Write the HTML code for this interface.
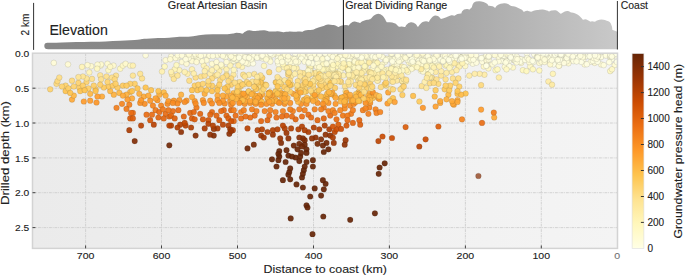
<!DOCTYPE html>
<html><head><meta charset="utf-8"><style>
html,body{margin:0;padding:0;background:#fff;width:685px;height:275px;overflow:hidden}
svg{display:block;font-family:"Liberation Sans",sans-serif}
text{stroke:#1e1e1e;stroke-width:0.12px}
</style></head><body>
<svg width="685" height="275" viewBox="0 0 685 275">
<defs>
<linearGradient id="pg" x1="44" y1="0" x2="617" y2="0" gradientUnits="userSpaceOnUse">
<stop offset="0" stop-color="#878787"/><stop offset="0.49" stop-color="#8a8a8a"/><stop offset="1" stop-color="#c9c9c9"/>
</linearGradient>
<linearGradient id="bg" x1="32" y1="0" x2="618" y2="0" gradientUnits="userSpaceOnUse">
<stop offset="0" stop-color="#ebebeb"/><stop offset="1" stop-color="#f4f4f4"/>
</linearGradient>
<linearGradient id="cb" x1="0" y1="53.6" x2="0" y2="248.4" gradientUnits="userSpaceOnUse"><stop offset="0.000" stop-color="#662506"/><stop offset="0.125" stop-color="#993404"/><stop offset="0.250" stop-color="#cc4c02"/><stop offset="0.375" stop-color="#ec7014"/><stop offset="0.500" stop-color="#fe9929"/><stop offset="0.625" stop-color="#fec44f"/><stop offset="0.750" stop-color="#fee391"/><stop offset="0.875" stop-color="#fff7bc"/><stop offset="1.000" stop-color="#ffffe5"/></linearGradient>
<clipPath id="axclip"><rect x="32.5" y="53.2" width="585.0" height="195.2"/></clipPath>
</defs>
<!-- elevation -->
<clipPath id="pclip"><rect x="0" y="0" width="617.3" height="49.5"/></clipPath>
<g clip-path="url(#pclip)"><path d="M47.4,45.9 C49.8,45.9 57.0,45.7 61.9,45.6 C66.8,45.5 71.6,45.3 76.5,45.2 C81.4,45.1 86.2,45.0 91.1,44.9 C96.0,44.8 100.8,44.7 105.7,44.5 C110.6,44.3 115.4,44.1 120.3,43.9 C125.2,43.6 131.6,43.2 134.9,43.0 C138.2,42.8 138.4,42.9 140.0,42.7 C141.6,42.5 142.0,42.0 144.4,41.8 C146.8,41.6 150.5,41.5 154.6,41.3 C158.7,41.2 165.1,41.1 169.2,40.9 C173.3,40.7 175.8,40.1 179.4,39.9 C183.1,39.7 187.4,39.8 191.1,39.5 C194.8,39.2 197.7,38.4 201.3,38.0 C205.0,37.6 209.1,37.5 213.0,37.4 C216.9,37.3 221.3,37.5 224.7,37.3 C228.1,37.2 231.4,36.7 233.4,36.5 C235.4,36.3 235.3,35.9 236.4,35.9 C237.5,35.9 238.8,36.1 240.0,36.2 C241.2,36.4 242.5,37.1 243.6,36.8 C244.7,36.5 245.6,35.1 246.6,34.5 C247.6,33.9 248.4,33.4 249.5,33.4 C250.6,33.4 251.8,34.1 253.1,34.2 C254.4,34.3 255.7,34.0 257.5,33.9 C259.3,33.8 262.3,33.3 264.1,33.4 C265.9,33.5 266.9,34.3 268.5,34.5 C270.1,34.7 271.8,34.5 273.6,34.5 C275.4,34.5 277.7,34.4 279.4,34.5 C281.1,34.6 282.1,35.3 283.8,35.3 C285.5,35.3 287.7,34.6 289.6,34.5 C291.6,34.4 293.8,34.9 295.5,34.9 C297.2,34.9 298.7,34.5 299.9,34.5 C301.1,34.5 301.8,35.1 302.8,34.9 C303.8,34.7 304.5,33.7 305.7,33.4 C306.9,33.1 308.6,33.3 310.1,33.1 C311.6,32.9 313.3,32.7 314.5,32.4 C315.7,32.1 316.2,31.6 317.4,31.2 C318.6,30.8 320.5,30.2 321.8,29.8 C323.1,29.4 324.3,29.0 325.4,28.6 C326.5,28.2 327.2,27.7 328.3,27.6 C329.4,27.5 330.9,27.8 332.0,28.0 C333.1,28.2 333.9,28.2 334.9,28.6 C335.9,29.0 336.9,29.9 337.8,30.1 C338.7,30.3 339.1,30.0 340.0,29.7 C340.9,29.4 341.9,28.8 342.9,28.5 C343.9,28.2 344.8,28.2 345.8,28.2 C346.8,28.2 347.9,28.6 348.8,28.5 C349.7,28.4 350.4,28.2 351.0,27.8 C351.6,27.4 351.8,26.4 352.4,25.9 C353.0,25.4 353.9,24.7 354.6,24.6 C355.3,24.5 356.1,25.1 356.8,25.3 C357.5,25.5 358.3,25.7 359.0,25.9 C359.7,26.1 360.5,26.6 361.2,26.3 C361.9,26.0 362.5,24.7 363.4,24.2 C364.2,23.7 365.3,23.4 366.3,23.1 C367.3,22.9 368.4,22.9 369.2,22.7 C370.0,22.5 370.7,22.4 371.4,22.0 C372.1,21.6 372.9,21.2 373.6,20.5 C374.3,19.8 375.0,18.6 375.8,18.0 C376.6,17.4 377.4,16.9 378.2,16.9 C379.0,16.9 379.9,17.4 380.6,18.0 C381.3,18.6 381.8,19.6 382.3,20.5 C382.8,21.4 383.3,22.7 383.8,23.4 C384.3,24.1 384.6,24.6 385.3,24.9 C386.0,25.2 387.1,25.2 388.2,25.3 C389.3,25.4 390.8,25.4 391.8,25.6 C392.8,25.8 393.3,25.8 394.0,26.3 C394.7,26.8 395.5,27.9 396.2,28.5 C396.9,29.1 397.5,29.5 398.4,29.7 C399.2,29.9 400.3,29.7 401.3,29.7 C402.3,29.8 403.2,29.9 404.2,30.0 C405.2,30.1 406.5,30.8 407.2,30.3 C407.9,29.8 407.9,27.9 408.6,27.1 C409.3,26.3 410.4,25.4 411.2,25.3 C412.0,25.2 413.0,25.7 413.7,26.3 C414.4,26.9 414.6,28.2 415.2,28.8 C415.8,29.4 416.7,29.6 417.4,29.7 C418.1,29.9 418.9,30.1 419.6,29.7 C420.3,29.3 421.1,27.9 421.8,27.1 C422.5,26.3 423.0,25.3 423.9,24.9 C424.8,24.5 425.9,24.3 426.9,24.5 C427.9,24.7 428.9,26.7 429.8,26.3 C430.7,25.9 431.4,23.3 432.2,22.1 C433.0,20.9 433.7,19.7 434.4,19.2 C435.1,18.7 435.9,18.6 436.6,18.9 C437.3,19.2 438.1,20.8 438.8,21.3 C439.5,21.8 439.9,22.1 440.9,22.1 C441.9,22.1 443.4,21.7 444.6,21.3 C445.8,20.9 447.0,20.4 448.2,19.9 C449.4,19.4 450.8,18.6 451.9,18.4 C453.0,18.2 453.7,19.1 454.8,18.9 C455.9,18.7 457.4,17.4 458.5,17.0 C459.6,16.6 460.5,16.4 461.4,16.5 C462.2,16.6 463.1,18.3 463.6,17.7 C464.2,17.1 464.1,13.9 464.7,13.0 C465.3,12.1 466.3,12.2 467.2,12.2 C468.1,12.2 469.2,13.2 470.1,13.0 C471.0,12.8 471.6,11.8 472.3,11.1 C473.0,10.4 473.9,9.9 474.5,8.9 C475.1,7.9 475.1,5.7 476.0,4.9 C476.9,4.1 478.5,4.3 479.6,4.3 C480.7,4.3 481.7,4.6 482.6,4.9 C483.5,5.2 484.6,5.7 485.2,6.3 C485.8,6.9 485.7,8.2 486.2,8.6 C486.7,9.0 487.5,8.8 488.4,8.9 C489.2,9.0 490.3,8.8 491.3,9.2 C492.3,9.6 493.4,10.6 494.2,11.1 C495.0,11.6 495.7,12.4 496.4,11.9 C497.1,11.4 497.8,9.1 498.6,8.2 C499.5,7.3 500.5,7.0 501.5,6.7 C502.5,6.4 503.5,6.2 504.5,6.3 C505.5,6.4 506.5,6.8 507.4,7.2 C508.2,7.6 508.9,8.3 509.6,8.6 C510.3,8.9 510.9,9.0 511.8,9.2 C512.6,9.4 513.7,9.4 514.7,9.7 C515.7,10.0 516.6,10.6 517.6,11.1 C518.6,11.6 519.8,11.9 520.5,12.6 C521.2,13.3 521.4,14.9 522.0,15.5 C522.6,16.1 523.5,16.1 524.2,15.9 C524.9,15.7 525.8,14.3 526.4,14.0 C527.0,13.7 527.0,13.9 527.9,14.0 C528.8,14.1 530.4,14.9 531.6,14.8 C532.8,14.7 534.0,13.9 535.2,13.6 C536.4,13.3 537.7,13.2 538.9,13.0 C540.1,12.8 541.3,12.5 542.5,12.6 C543.7,12.7 545.1,13.3 546.2,13.6 C547.3,13.9 548.1,14.5 549.1,14.5 C550.1,14.5 551.0,13.8 552.0,13.6 C553.0,13.4 554.0,13.1 554.9,13.3 C555.8,13.5 556.4,14.3 557.1,14.8 C557.8,15.3 558.4,16.2 559.3,16.5 C560.1,16.8 561.2,16.8 562.2,16.5 C563.2,16.2 564.2,15.2 565.1,14.8 C566.0,14.4 566.4,13.9 567.3,14.0 C568.2,14.1 569.3,15.2 570.3,15.5 C571.3,15.8 572.2,15.6 573.2,15.9 C574.2,16.2 575.1,16.7 576.1,17.4 C577.1,18.1 578.1,19.0 579.0,19.9 C579.9,20.8 580.5,22.3 581.2,22.8 C581.9,23.3 582.7,22.9 583.4,22.8 C584.1,22.7 584.9,22.2 585.6,22.4 C586.3,22.6 587.1,23.4 587.8,23.8 C588.5,24.2 589.3,24.9 590.0,25.0 C590.7,25.1 591.4,24.3 592.2,24.3 C593.1,24.3 594.2,25.1 595.1,25.0 C596.0,24.9 596.4,24.2 597.3,23.8 C598.1,23.4 599.2,23.0 600.2,22.8 C601.2,22.6 602.2,22.7 603.1,22.8 C604.0,22.9 604.6,23.2 605.3,23.5 C606.0,23.8 606.9,23.7 607.5,24.3 C608.1,24.9 608.5,26.0 608.9,27.2 C609.3,28.4 609.2,30.6 609.7,31.6 C610.2,32.6 611.2,32.6 611.9,33.0 C612.6,33.4 613.4,33.5 614.1,33.8 C614.8,34.0 615.7,34.4 616.2,34.5 C616.7,34.6 617.1,34.5 617.3,34.5 L617.3,49.5 L47.4,49.5 Z" fill="url(#pg)"/>
<path d="M47.4,45.9 C49.8,45.9 57.0,45.7 61.9,45.6 C66.8,45.5 71.6,45.3 76.5,45.2 C81.4,45.1 86.2,45.0 91.1,44.9 C96.0,44.8 100.8,44.7 105.7,44.5 C110.6,44.3 115.4,44.1 120.3,43.9 C125.2,43.6 131.6,43.2 134.9,43.0 C138.2,42.8 138.4,42.9 140.0,42.7 C141.6,42.5 142.0,42.0 144.4,41.8 C146.8,41.6 150.5,41.5 154.6,41.3 C158.7,41.2 165.1,41.1 169.2,40.9 C173.3,40.7 175.8,40.1 179.4,39.9 C183.1,39.7 187.4,39.8 191.1,39.5 C194.8,39.2 197.7,38.4 201.3,38.0 C205.0,37.6 209.1,37.5 213.0,37.4 C216.9,37.3 221.3,37.5 224.7,37.3 C228.1,37.2 231.4,36.7 233.4,36.5 C235.4,36.3 235.3,35.9 236.4,35.9 C237.5,35.9 238.8,36.1 240.0,36.2 C241.2,36.4 242.5,37.1 243.6,36.8 C244.7,36.5 245.6,35.1 246.6,34.5 C247.6,33.9 248.4,33.4 249.5,33.4 C250.6,33.4 251.8,34.1 253.1,34.2 C254.4,34.3 255.7,34.0 257.5,33.9 C259.3,33.8 262.3,33.3 264.1,33.4 C265.9,33.5 266.9,34.3 268.5,34.5 C270.1,34.7 271.8,34.5 273.6,34.5 C275.4,34.5 277.7,34.4 279.4,34.5 C281.1,34.6 282.1,35.3 283.8,35.3 C285.5,35.3 287.7,34.6 289.6,34.5 C291.6,34.4 293.8,34.9 295.5,34.9 C297.2,34.9 298.7,34.5 299.9,34.5 C301.1,34.5 301.8,35.1 302.8,34.9 C303.8,34.7 304.5,33.7 305.7,33.4 C306.9,33.1 308.6,33.3 310.1,33.1 C311.6,32.9 313.3,32.7 314.5,32.4 C315.7,32.1 316.2,31.6 317.4,31.2 C318.6,30.8 320.5,30.2 321.8,29.8 C323.1,29.4 324.3,29.0 325.4,28.6 C326.5,28.2 327.2,27.7 328.3,27.6 C329.4,27.5 330.9,27.8 332.0,28.0 C333.1,28.2 333.9,28.2 334.9,28.6 C335.9,29.0 336.9,29.9 337.8,30.1 C338.7,30.3 339.1,30.0 340.0,29.7 C340.9,29.4 341.9,28.8 342.9,28.5 C343.9,28.2 344.8,28.2 345.8,28.2 C346.8,28.2 347.9,28.6 348.8,28.5 C349.7,28.4 350.4,28.2 351.0,27.8 C351.6,27.4 351.8,26.4 352.4,25.9 C353.0,25.4 353.9,24.7 354.6,24.6 C355.3,24.5 356.1,25.1 356.8,25.3 C357.5,25.5 358.3,25.7 359.0,25.9 C359.7,26.1 360.5,26.6 361.2,26.3 C361.9,26.0 362.5,24.7 363.4,24.2 C364.2,23.7 365.3,23.4 366.3,23.1 C367.3,22.9 368.4,22.9 369.2,22.7 C370.0,22.5 370.7,22.4 371.4,22.0 C372.1,21.6 372.9,21.2 373.6,20.5 C374.3,19.8 375.0,18.6 375.8,18.0 C376.6,17.4 377.4,16.9 378.2,16.9 C379.0,16.9 379.9,17.4 380.6,18.0 C381.3,18.6 381.8,19.6 382.3,20.5 C382.8,21.4 383.3,22.7 383.8,23.4 C384.3,24.1 384.6,24.6 385.3,24.9 C386.0,25.2 387.1,25.2 388.2,25.3 C389.3,25.4 390.8,25.4 391.8,25.6 C392.8,25.8 393.3,25.8 394.0,26.3 C394.7,26.8 395.5,27.9 396.2,28.5 C396.9,29.1 397.5,29.5 398.4,29.7 C399.2,29.9 400.3,29.7 401.3,29.7 C402.3,29.8 403.2,29.9 404.2,30.0 C405.2,30.1 406.5,30.8 407.2,30.3 C407.9,29.8 407.9,27.9 408.6,27.1 C409.3,26.3 410.4,25.4 411.2,25.3 C412.0,25.2 413.0,25.7 413.7,26.3 C414.4,26.9 414.6,28.2 415.2,28.8 C415.8,29.4 416.7,29.6 417.4,29.7 C418.1,29.9 418.9,30.1 419.6,29.7 C420.3,29.3 421.1,27.9 421.8,27.1 C422.5,26.3 423.0,25.3 423.9,24.9 C424.8,24.5 425.9,24.3 426.9,24.5 C427.9,24.7 428.9,26.7 429.8,26.3 C430.7,25.9 431.4,23.3 432.2,22.1 C433.0,20.9 433.7,19.7 434.4,19.2 C435.1,18.7 435.9,18.6 436.6,18.9 C437.3,19.2 438.1,20.8 438.8,21.3 C439.5,21.8 439.9,22.1 440.9,22.1 C441.9,22.1 443.4,21.7 444.6,21.3 C445.8,20.9 447.0,20.4 448.2,19.9 C449.4,19.4 450.8,18.6 451.9,18.4 C453.0,18.2 453.7,19.1 454.8,18.9 C455.9,18.7 457.4,17.4 458.5,17.0 C459.6,16.6 460.5,16.4 461.4,16.5 C462.2,16.6 463.1,18.3 463.6,17.7 C464.2,17.1 464.1,13.9 464.7,13.0 C465.3,12.1 466.3,12.2 467.2,12.2 C468.1,12.2 469.2,13.2 470.1,13.0 C471.0,12.8 471.6,11.8 472.3,11.1 C473.0,10.4 473.9,9.9 474.5,8.9 C475.1,7.9 475.1,5.7 476.0,4.9 C476.9,4.1 478.5,4.3 479.6,4.3 C480.7,4.3 481.7,4.6 482.6,4.9 C483.5,5.2 484.6,5.7 485.2,6.3 C485.8,6.9 485.7,8.2 486.2,8.6 C486.7,9.0 487.5,8.8 488.4,8.9 C489.2,9.0 490.3,8.8 491.3,9.2 C492.3,9.6 493.4,10.6 494.2,11.1 C495.0,11.6 495.7,12.4 496.4,11.9 C497.1,11.4 497.8,9.1 498.6,8.2 C499.5,7.3 500.5,7.0 501.5,6.7 C502.5,6.4 503.5,6.2 504.5,6.3 C505.5,6.4 506.5,6.8 507.4,7.2 C508.2,7.6 508.9,8.3 509.6,8.6 C510.3,8.9 510.9,9.0 511.8,9.2 C512.6,9.4 513.7,9.4 514.7,9.7 C515.7,10.0 516.6,10.6 517.6,11.1 C518.6,11.6 519.8,11.9 520.5,12.6 C521.2,13.3 521.4,14.9 522.0,15.5 C522.6,16.1 523.5,16.1 524.2,15.9 C524.9,15.7 525.8,14.3 526.4,14.0 C527.0,13.7 527.0,13.9 527.9,14.0 C528.8,14.1 530.4,14.9 531.6,14.8 C532.8,14.7 534.0,13.9 535.2,13.6 C536.4,13.3 537.7,13.2 538.9,13.0 C540.1,12.8 541.3,12.5 542.5,12.6 C543.7,12.7 545.1,13.3 546.2,13.6 C547.3,13.9 548.1,14.5 549.1,14.5 C550.1,14.5 551.0,13.8 552.0,13.6 C553.0,13.4 554.0,13.1 554.9,13.3 C555.8,13.5 556.4,14.3 557.1,14.8 C557.8,15.3 558.4,16.2 559.3,16.5 C560.1,16.8 561.2,16.8 562.2,16.5 C563.2,16.2 564.2,15.2 565.1,14.8 C566.0,14.4 566.4,13.9 567.3,14.0 C568.2,14.1 569.3,15.2 570.3,15.5 C571.3,15.8 572.2,15.6 573.2,15.9 C574.2,16.2 575.1,16.7 576.1,17.4 C577.1,18.1 578.1,19.0 579.0,19.9 C579.9,20.8 580.5,22.3 581.2,22.8 C581.9,23.3 582.7,22.9 583.4,22.8 C584.1,22.7 584.9,22.2 585.6,22.4 C586.3,22.6 587.1,23.4 587.8,23.8 C588.5,24.2 589.3,24.9 590.0,25.0 C590.7,25.1 591.4,24.3 592.2,24.3 C593.1,24.3 594.2,25.1 595.1,25.0 C596.0,24.9 596.4,24.2 597.3,23.8 C598.1,23.4 599.2,23.0 600.2,22.8 C601.2,22.6 602.2,22.7 603.1,22.8 C604.0,22.9 604.6,23.2 605.3,23.5 C606.0,23.8 606.9,23.7 607.5,24.3 C608.1,24.9 608.5,26.0 608.9,27.2 C609.3,28.4 609.2,30.6 609.7,31.6 C610.2,32.6 611.2,32.6 611.9,33.0 C612.6,33.4 613.4,33.5 614.1,33.8 C614.8,34.0 615.7,34.4 616.2,34.5 C616.7,34.6 617.1,34.5 617.3,34.5" fill="none" stroke="url(#pg)" stroke-width="6.2" stroke-linecap="round" stroke-linejoin="round"/></g>
<line x1="33.6" y1="2.9" x2="33.6" y2="49.9" stroke="#333" stroke-width="1"/>
<line x1="343.4" y1="0" x2="343.4" y2="49.7" stroke="#111" stroke-width="1"/>
<line x1="617.4" y1="1" x2="617.4" y2="49.5" stroke="#333" stroke-width="1"/>
<text x="167.8" y="8.6" font-size="10" fill="#222" textLength="99.5" lengthAdjust="spacingAndGlyphs">Great Artesian Basin</text>
<text x="345.3" y="8.6" font-size="10" fill="#222" textLength="102" lengthAdjust="spacingAndGlyphs">Great Dividing Range</text>
<text x="620.8" y="8.6" font-size="10" fill="#222" textLength="27.2" lengthAdjust="spacingAndGlyphs">Coast</text>
<text x="49.4" y="34.6" font-size="14.1" fill="#222" textLength="58.4" lengthAdjust="spacingAndGlyphs">Elevation</text>
<text transform="translate(28.5,35.5) rotate(-90)" font-size="10" fill="#222" textLength="21.9" lengthAdjust="spacingAndGlyphs">2 km</text>
<!-- axes -->
<rect x="32.5" y="53.2" width="585.0" height="195.2" fill="url(#bg)"/>
<g stroke="#c9c9c9" stroke-width="0.8" stroke-dasharray="2.8,0.9,0.9,0.9">
<line x1="541.3" y1="53.2" x2="541.3" y2="248.4"/>
<line x1="465.4" y1="53.2" x2="465.4" y2="248.4"/>
<line x1="389.4" y1="53.2" x2="389.4" y2="248.4"/>
<line x1="313.5" y1="53.2" x2="313.5" y2="248.4"/>
<line x1="237.5" y1="53.2" x2="237.5" y2="248.4"/>
<line x1="161.5" y1="53.2" x2="161.5" y2="248.4"/>
<line x1="85.6" y1="53.2" x2="85.6" y2="248.4"/>
<line x1="32.5" y1="88.2" x2="617.5" y2="88.2"/>
<line x1="32.5" y1="123.0" x2="617.5" y2="123.0"/>
<line x1="32.5" y1="157.9" x2="617.5" y2="157.9"/>
<line x1="32.5" y1="192.7" x2="617.5" y2="192.7"/>
<line x1="32.5" y1="227.6" x2="617.5" y2="227.6"/>
</g>
<g clip-path="url(#axclip)" fill-opacity="0.92" stroke="rgba(30,30,30,0.28)" stroke-width="0.4">
<circle cx="323.1" cy="75.0" r="2.85" fill="#fee392"/>
<circle cx="165.6" cy="60.2" r="2.85" fill="#fffbd3"/>
<circle cx="357.1" cy="77.2" r="2.85" fill="#fff1af"/>
<circle cx="366.5" cy="61.0" r="2.85" fill="#fffedf"/>
<circle cx="212.0" cy="91.1" r="2.85" fill="#fec24d"/>
<circle cx="301.1" cy="103.8" r="2.85" fill="#fa9024"/>
<circle cx="291.7" cy="84.5" r="2.85" fill="#feda7d"/>
<circle cx="534.4" cy="54.5" r="2.85" fill="#fffee2"/>
<circle cx="423.4" cy="55.5" r="2.85" fill="#fffddb"/>
<circle cx="113.8" cy="94.7" r="2.85" fill="#feb13e"/>
<circle cx="463.1" cy="54.6" r="2.85" fill="#fffee0"/>
<circle cx="132.9" cy="112.9" r="2.85" fill="#e96d13"/>
<circle cx="600.0" cy="57.3" r="2.85" fill="#ffffe5"/>
<circle cx="594.4" cy="61.7" r="2.85" fill="#ffffe3"/>
<circle cx="383.1" cy="70.3" r="2.85" fill="#fffbd1"/>
<circle cx="508.6" cy="61.4" r="2.85" fill="#fffee1"/>
<circle cx="420.0" cy="62.2" r="2.85" fill="#fffbcf"/>
<circle cx="586.1" cy="56.3" r="2.85" fill="#fffee1"/>
<circle cx="531.5" cy="63.2" r="2.85" fill="#fffddb"/>
<circle cx="358.3" cy="69.7" r="2.85" fill="#fff7be"/>
<circle cx="208.4" cy="120.2" r="2.85" fill="#d35406"/>
<circle cx="305.2" cy="73.3" r="2.85" fill="#feeaa0"/>
<circle cx="187.5" cy="73.8" r="2.85" fill="#ffefaa"/>
<circle cx="357.4" cy="78.0" r="2.85" fill="#fff0ae"/>
<circle cx="610.6" cy="58.2" r="2.85" fill="#fffee0"/>
<circle cx="321.9" cy="88.2" r="2.85" fill="#fed16b"/>
<circle cx="277.7" cy="55.0" r="2.85" fill="#fffbd0"/>
<circle cx="303.0" cy="73.2" r="2.85" fill="#fee595"/>
<circle cx="392.6" cy="67.9" r="2.85" fill="#fff5b8"/>
<circle cx="432.0" cy="77.5" r="2.85" fill="#fee08a"/>
<circle cx="311.9" cy="56.7" r="2.85" fill="#fffddc"/>
<circle cx="494.2" cy="117.5" r="2.85" fill="#fea937"/>
<circle cx="397.8" cy="57.3" r="2.85" fill="#fffee1"/>
<circle cx="505.9" cy="61.4" r="2.85" fill="#fffee1"/>
<circle cx="239.8" cy="97.7" r="2.85" fill="#feb340"/>
<circle cx="323.8" cy="107.5" r="2.85" fill="#f27f1c"/>
<circle cx="396.3" cy="59.8" r="2.85" fill="#fffede"/>
<circle cx="354.4" cy="72.6" r="2.85" fill="#feeaa0"/>
<circle cx="387.5" cy="103.5" r="2.85" fill="#fe9b2b"/>
<circle cx="253.9" cy="56.7" r="2.85" fill="#fffede"/>
<circle cx="427.5" cy="60.4" r="2.85" fill="#fffcd6"/>
<circle cx="88.4" cy="88.4" r="2.85" fill="#fece65"/>
<circle cx="256.2" cy="85.1" r="2.85" fill="#fece64"/>
<circle cx="321.1" cy="195.6" r="2.85" fill="#662506"/>
<circle cx="306.5" cy="60.3" r="2.85" fill="#fffedf"/>
<circle cx="95.6" cy="89.3" r="2.85" fill="#feca5d"/>
<circle cx="359.0" cy="72.9" r="2.85" fill="#ffeea9"/>
<circle cx="293.8" cy="145.6" r="2.85" fill="#712806"/>
<circle cx="130.2" cy="92.0" r="2.85" fill="#feb743"/>
<circle cx="261.2" cy="82.0" r="2.85" fill="#fed26d"/>
<circle cx="173.8" cy="100.7" r="2.85" fill="#fc9627"/>
<circle cx="142.0" cy="78.4" r="2.85" fill="#fee08a"/>
<circle cx="468.9" cy="58.6" r="2.85" fill="#fffee2"/>
<circle cx="309.6" cy="56.1" r="2.85" fill="#fffcd3"/>
<circle cx="610.2" cy="71.1" r="2.85" fill="#fff8bf"/>
<circle cx="241.7" cy="84.2" r="2.85" fill="#fed26d"/>
<circle cx="306.3" cy="57.5" r="2.85" fill="#ffffe5"/>
<circle cx="345.6" cy="140.2" r="2.85" fill="#9c3604"/>
<circle cx="457.5" cy="100.2" r="2.85" fill="#fea937"/>
<circle cx="119.3" cy="92.9" r="2.85" fill="#feb743"/>
<circle cx="134.7" cy="83.8" r="2.85" fill="#fece65"/>
<circle cx="544.8" cy="59.7" r="2.85" fill="#fffee0"/>
<circle cx="526.9" cy="53.4" r="2.85" fill="#fffedf"/>
<circle cx="258.6" cy="54.0" r="2.85" fill="#fffcd7"/>
<circle cx="422.0" cy="66.0" r="2.85" fill="#fff5b8"/>
<circle cx="334.5" cy="95.7" r="2.85" fill="#febb47"/>
<circle cx="204.7" cy="93.8" r="2.85" fill="#feac3a"/>
<circle cx="438.4" cy="126.5" r="2.85" fill="#db5d0b"/>
<circle cx="483.5" cy="57.6" r="2.85" fill="#fffdda"/>
<circle cx="369.3" cy="60.2" r="2.85" fill="#fffddb"/>
<circle cx="262.2" cy="94.6" r="2.85" fill="#fea937"/>
<circle cx="242.6" cy="62.1" r="2.85" fill="#fffdd9"/>
<circle cx="259.3" cy="96.4" r="2.85" fill="#fea130"/>
<circle cx="388.2" cy="92.4" r="2.85" fill="#fea332"/>
<circle cx="306.3" cy="60.3" r="2.85" fill="#ffffe5"/>
<circle cx="290.2" cy="102.9" r="2.85" fill="#fb9326"/>
<circle cx="539.3" cy="62.9" r="2.85" fill="#fffbd3"/>
<circle cx="513.1" cy="53.9" r="2.85" fill="#fffee1"/>
<circle cx="313.4" cy="88.0" r="2.85" fill="#fed675"/>
<circle cx="100.7" cy="65.6" r="2.85" fill="#fffacd"/>
<circle cx="372.2" cy="77.0" r="2.85" fill="#feeba2"/>
<circle cx="530.2" cy="66.5" r="2.85" fill="#fff9c7"/>
<circle cx="235.6" cy="54.6" r="2.85" fill="#fffedf"/>
<circle cx="348.9" cy="72.1" r="2.85" fill="#feeaa0"/>
<circle cx="401.8" cy="66.6" r="2.85" fill="#fff0ae"/>
<circle cx="429.6" cy="71.0" r="2.85" fill="#fffacb"/>
<circle cx="557.4" cy="62.0" r="2.85" fill="#fffedf"/>
<circle cx="248.7" cy="91.3" r="2.85" fill="#fed069"/>
<circle cx="292.9" cy="111.1" r="2.85" fill="#f27f1c"/>
<circle cx="507.0" cy="54.1" r="2.85" fill="#fffedf"/>
<circle cx="250.2" cy="102.9" r="2.85" fill="#fb9326"/>
<circle cx="202.9" cy="100.2" r="2.85" fill="#fc9627"/>
<circle cx="450.1" cy="63.8" r="2.85" fill="#fff5b8"/>
<circle cx="473.2" cy="55.3" r="2.85" fill="#fffddc"/>
<circle cx="568.4" cy="60.9" r="2.85" fill="#fffdda"/>
<circle cx="366.2" cy="67.7" r="2.85" fill="#fffac9"/>
<circle cx="326.7" cy="97.2" r="2.85" fill="#feb642"/>
<circle cx="456.6" cy="54.6" r="2.85" fill="#fffee1"/>
<circle cx="253.0" cy="93.2" r="2.85" fill="#feaf3c"/>
<circle cx="396.8" cy="80.6" r="2.85" fill="#fee79a"/>
<circle cx="129.3" cy="104.7" r="2.85" fill="#f27f1c"/>
<circle cx="466.1" cy="60.7" r="2.85" fill="#fffee2"/>
<circle cx="611.8" cy="59.2" r="2.85" fill="#ffffe5"/>
<circle cx="395.5" cy="59.5" r="2.85" fill="#fffcd8"/>
<circle cx="194.7" cy="85.6" r="2.85" fill="#fece65"/>
<circle cx="325.3" cy="59.2" r="2.85" fill="#fffdd9"/>
<circle cx="288.4" cy="174.7" r="2.85" fill="#662506"/>
<circle cx="234.2" cy="98.2" r="2.85" fill="#febe4a"/>
<circle cx="541.2" cy="59.7" r="2.85" fill="#fffcd7"/>
<circle cx="86.5" cy="82.0" r="2.85" fill="#fed36e"/>
<circle cx="375.0" cy="72.6" r="2.85" fill="#fee99d"/>
<circle cx="445.6" cy="65.6" r="2.85" fill="#fff4b6"/>
<circle cx="435.6" cy="106.5" r="2.85" fill="#fea130"/>
<circle cx="319.3" cy="129.3" r="2.85" fill="#ad3d03"/>
<circle cx="129.3" cy="130.2" r="2.85" fill="#aa3c03"/>
<circle cx="375.3" cy="76.1" r="2.85" fill="#fee99d"/>
<circle cx="505.4" cy="60.2" r="2.85" fill="#fffcd7"/>
<circle cx="332.5" cy="55.5" r="2.85" fill="#fffcd8"/>
<circle cx="325.2" cy="65.6" r="2.85" fill="#fff5b8"/>
<circle cx="188.5" cy="54.9" r="2.85" fill="#fffbd3"/>
<circle cx="143.8" cy="96.5" r="2.85" fill="#fea937"/>
<circle cx="210.2" cy="100.7" r="2.85" fill="#fc9627"/>
<circle cx="319.6" cy="70.7" r="2.85" fill="#fff1ae"/>
<circle cx="609.2" cy="62.2" r="2.85" fill="#fffedf"/>
<circle cx="519.2" cy="58.8" r="2.85" fill="#fffcd5"/>
<circle cx="320.8" cy="63.2" r="2.85" fill="#fffdda"/>
<circle cx="275.7" cy="82.3" r="2.85" fill="#fed573"/>
<circle cx="438.0" cy="56.0" r="2.85" fill="#fffddb"/>
<circle cx="340.9" cy="97.9" r="2.85" fill="#feb945"/>
<circle cx="393.6" cy="64.1" r="2.85" fill="#fff8c2"/>
<circle cx="440.2" cy="102.9" r="2.85" fill="#fea937"/>
<circle cx="153.8" cy="124.7" r="2.85" fill="#b84203"/>
<circle cx="303.8" cy="99.8" r="2.85" fill="#feb642"/>
<circle cx="581.2" cy="61.0" r="2.85" fill="#fffede"/>
<circle cx="605.4" cy="54.9" r="2.85" fill="#fffcd6"/>
<circle cx="372.8" cy="98.0" r="2.85" fill="#fec14c"/>
<circle cx="194.7" cy="101.1" r="2.85" fill="#fc9627"/>
<circle cx="265.9" cy="53.6" r="2.85" fill="#fffcd6"/>
<circle cx="420.9" cy="55.6" r="2.85" fill="#fffcd8"/>
<circle cx="172.0" cy="74.7" r="2.85" fill="#fee698"/>
<circle cx="278.4" cy="102.0" r="2.85" fill="#feab39"/>
<circle cx="230.2" cy="101.1" r="2.85" fill="#fc9627"/>
<circle cx="544.7" cy="54.8" r="2.85" fill="#fffee1"/>
<circle cx="179.3" cy="70.2" r="2.85" fill="#fff4b6"/>
<circle cx="438.4" cy="83.8" r="2.85" fill="#fed97c"/>
<circle cx="110.2" cy="91.1" r="2.85" fill="#feb743"/>
<circle cx="186.5" cy="100.7" r="2.85" fill="#fc9627"/>
<circle cx="434.9" cy="64.6" r="2.85" fill="#fff6ba"/>
<circle cx="228.4" cy="125.6" r="2.85" fill="#b24003"/>
<circle cx="512.9" cy="67.5" r="2.85" fill="#fff9c4"/>
<circle cx="460.1" cy="54.2" r="2.85" fill="#fffdd9"/>
<circle cx="308.9" cy="66.1" r="2.85" fill="#fff8bf"/>
<circle cx="313.8" cy="127.5" r="2.85" fill="#af3f03"/>
<circle cx="181.1" cy="132.0" r="2.85" fill="#8f3104"/>
<circle cx="374.6" cy="60.6" r="2.85" fill="#fffcd8"/>
<circle cx="421.2" cy="64.6" r="2.85" fill="#fffbd1"/>
<circle cx="385.9" cy="85.4" r="2.85" fill="#fedf88"/>
<circle cx="373.6" cy="59.8" r="2.85" fill="#fffcd4"/>
<circle cx="351.1" cy="113.8" r="2.85" fill="#f17b1a"/>
<circle cx="365.2" cy="54.9" r="2.85" fill="#fffcd4"/>
<circle cx="316.4" cy="75.4" r="2.85" fill="#fee390"/>
<circle cx="594.7" cy="62.9" r="2.85" fill="#fffbd3"/>
<circle cx="553.9" cy="53.5" r="2.85" fill="#ffffe2"/>
<circle cx="562.6" cy="60.1" r="2.85" fill="#fffcd7"/>
<circle cx="402.7" cy="81.4" r="2.85" fill="#feeca5"/>
<circle cx="332.7" cy="53.7" r="2.85" fill="#fffcd4"/>
<circle cx="345.0" cy="86.3" r="2.85" fill="#fede85"/>
<circle cx="349.8" cy="77.5" r="2.85" fill="#fee28e"/>
<circle cx="120.2" cy="68.7" r="2.85" fill="#fff8bf"/>
<circle cx="108.4" cy="86.5" r="2.85" fill="#feca5d"/>
<circle cx="285.0" cy="58.0" r="2.85" fill="#fffede"/>
<circle cx="360.6" cy="70.0" r="2.85" fill="#fff2b2"/>
<circle cx="402.1" cy="81.1" r="2.85" fill="#fee595"/>
<circle cx="488.3" cy="56.7" r="2.85" fill="#fffddd"/>
<circle cx="155.6" cy="110.2" r="2.85" fill="#ef7818"/>
<circle cx="307.3" cy="85.3" r="2.85" fill="#fed778"/>
<circle cx="79.3" cy="87.5" r="2.85" fill="#fece65"/>
<circle cx="106.5" cy="76.5" r="2.85" fill="#fee08a"/>
<circle cx="279.5" cy="90.8" r="2.85" fill="#fecd63"/>
<circle cx="459.3" cy="86.5" r="2.85" fill="#fece65"/>
<circle cx="448.4" cy="94.7" r="2.85" fill="#febc48"/>
<circle cx="294.0" cy="63.4" r="2.85" fill="#fffede"/>
<circle cx="162.0" cy="71.6" r="2.85" fill="#fff1b0"/>
<circle cx="356.0" cy="62.8" r="2.85" fill="#fff8c1"/>
<circle cx="163.8" cy="92.4" r="2.85" fill="#febc48"/>
<circle cx="446.5" cy="72.9" r="2.85" fill="#feeaa1"/>
<circle cx="293.3" cy="59.0" r="2.85" fill="#fffddc"/>
<circle cx="331.8" cy="83.0" r="2.85" fill="#fede87"/>
<circle cx="429.1" cy="72.3" r="2.85" fill="#fff8c2"/>
<circle cx="444.7" cy="89.3" r="2.85" fill="#feca5d"/>
<circle cx="503.7" cy="55.8" r="2.85" fill="#ffffe4"/>
<circle cx="325.5" cy="96.5" r="2.85" fill="#fec04c"/>
<circle cx="522.9" cy="70.2" r="2.85" fill="#fff8bf"/>
<circle cx="338.0" cy="73.4" r="2.85" fill="#fee99d"/>
<circle cx="122.9" cy="65.6" r="2.85" fill="#fff9c7"/>
<circle cx="212.0" cy="63.8" r="2.85" fill="#fffbcf"/>
<circle cx="116.0" cy="75.6" r="2.85" fill="#fee08a"/>
<circle cx="316.8" cy="81.3" r="2.85" fill="#fee698"/>
<circle cx="464.4" cy="57.8" r="2.85" fill="#fffddd"/>
<circle cx="551.0" cy="55.5" r="2.85" fill="#ffffe2"/>
<circle cx="578.8" cy="56.8" r="2.85" fill="#fffddc"/>
<circle cx="217.5" cy="55.3" r="2.85" fill="#fffdd9"/>
<circle cx="567.6" cy="61.8" r="2.85" fill="#ffffe4"/>
<circle cx="472.8" cy="63.7" r="2.85" fill="#fffddb"/>
<circle cx="370.1" cy="54.7" r="2.85" fill="#fffcd7"/>
<circle cx="298.0" cy="101.8" r="2.85" fill="#feb643"/>
<circle cx="317.5" cy="102.9" r="2.85" fill="#fb9326"/>
<circle cx="303.8" cy="170.2" r="2.85" fill="#662506"/>
<circle cx="420.9" cy="70.7" r="2.85" fill="#fffdd8"/>
<circle cx="350.2" cy="105.6" r="2.85" fill="#f78a21"/>
<circle cx="614.7" cy="65.1" r="2.85" fill="#fffbd3"/>
<circle cx="157.5" cy="100.2" r="2.85" fill="#fc9627"/>
<circle cx="392.5" cy="59.4" r="2.85" fill="#fffede"/>
<circle cx="261.8" cy="85.6" r="2.85" fill="#fec34e"/>
<circle cx="357.4" cy="65.9" r="2.85" fill="#fffbce"/>
<circle cx="197.5" cy="90.2" r="2.85" fill="#fec24d"/>
<circle cx="241.3" cy="97.0" r="2.85" fill="#fea635"/>
<circle cx="299.3" cy="161.1" r="2.85" fill="#662506"/>
<circle cx="203.8" cy="65.6" r="2.85" fill="#fff4b6"/>
<circle cx="78.4" cy="82.9" r="2.85" fill="#fed36e"/>
<circle cx="319.6" cy="68.3" r="2.85" fill="#fff9c8"/>
<circle cx="199.4" cy="56.9" r="2.85" fill="#fffdda"/>
<circle cx="370.3" cy="83.5" r="2.85" fill="#fed068"/>
<circle cx="586.0" cy="56.3" r="2.85" fill="#ffffe5"/>
<circle cx="352.9" cy="110.2" r="2.85" fill="#f27f1c"/>
<circle cx="410.2" cy="60.1" r="2.85" fill="#fffdd9"/>
<circle cx="141.1" cy="125.6" r="2.85" fill="#b84203"/>
<circle cx="375.6" cy="109.3" r="2.85" fill="#f4821d"/>
<circle cx="233.6" cy="93.0" r="2.85" fill="#feb743"/>
<circle cx="265.5" cy="84.7" r="2.85" fill="#fec653"/>
<circle cx="290.0" cy="85.6" r="2.85" fill="#fed068"/>
<circle cx="330.8" cy="80.5" r="2.85" fill="#fee596"/>
<circle cx="326.6" cy="62.9" r="2.85" fill="#fffdd8"/>
<circle cx="305.9" cy="91.5" r="2.85" fill="#fec756"/>
<circle cx="304.7" cy="140.2" r="2.85" fill="#7e2c05"/>
<circle cx="208.4" cy="55.6" r="2.85" fill="#fffdd9"/>
<circle cx="289.3" cy="172.0" r="2.85" fill="#662506"/>
<circle cx="290.1" cy="58.8" r="2.85" fill="#fffee1"/>
<circle cx="420.3" cy="59.8" r="2.85" fill="#ffffe5"/>
<circle cx="308.4" cy="132.0" r="2.85" fill="#ad3d03"/>
<circle cx="474.8" cy="58.3" r="2.85" fill="#fffddc"/>
<circle cx="418.7" cy="58.2" r="2.85" fill="#fffee2"/>
<circle cx="319.7" cy="84.3" r="2.85" fill="#fece65"/>
<circle cx="307.0" cy="77.9" r="2.85" fill="#fee99d"/>
<circle cx="391.9" cy="81.4" r="2.85" fill="#ffefaa"/>
<circle cx="180.2" cy="124.7" r="2.85" fill="#b84203"/>
<circle cx="260.5" cy="77.2" r="2.85" fill="#fedf89"/>
<circle cx="145.6" cy="87.5" r="2.85" fill="#fec24d"/>
<circle cx="410.7" cy="62.4" r="2.85" fill="#fff8c2"/>
<circle cx="329.1" cy="63.7" r="2.85" fill="#fffede"/>
<circle cx="545.3" cy="54.5" r="2.85" fill="#fffee0"/>
<circle cx="278.0" cy="58.4" r="2.85" fill="#ffffe3"/>
<circle cx="241.6" cy="60.5" r="2.85" fill="#fffedf"/>
<circle cx="276.2" cy="82.4" r="2.85" fill="#fec959"/>
<circle cx="310.5" cy="84.0" r="2.85" fill="#fecb5e"/>
<circle cx="239.7" cy="82.2" r="2.85" fill="#fedd85"/>
<circle cx="385.1" cy="61.9" r="2.85" fill="#fffcd6"/>
<circle cx="369.3" cy="72.2" r="2.85" fill="#fee596"/>
<circle cx="278.3" cy="61.9" r="2.85" fill="#ffffe5"/>
<circle cx="248.0" cy="92.9" r="2.85" fill="#fea332"/>
<circle cx="317.1" cy="94.4" r="2.85" fill="#feb03e"/>
<circle cx="291.3" cy="75.9" r="2.85" fill="#fee89b"/>
<circle cx="269.9" cy="59.9" r="2.85" fill="#fffede"/>
<circle cx="352.6" cy="76.8" r="2.85" fill="#feeba3"/>
<circle cx="462.0" cy="119.3" r="2.85" fill="#f5841e"/>
<circle cx="509.5" cy="54.6" r="2.85" fill="#fffedf"/>
<circle cx="443.4" cy="55.1" r="2.85" fill="#fffdd9"/>
<circle cx="508.2" cy="53.7" r="2.85" fill="#fffedf"/>
<circle cx="200.2" cy="56.5" r="2.85" fill="#fffdd9"/>
<circle cx="304.7" cy="144.7" r="2.85" fill="#712806"/>
<circle cx="540.3" cy="54.8" r="2.85" fill="#fffee1"/>
<circle cx="216.5" cy="62.0" r="2.85" fill="#fffbd2"/>
<circle cx="242.1" cy="66.8" r="2.85" fill="#fff4b6"/>
<circle cx="152.9" cy="105.6" r="2.85" fill="#f5841e"/>
<circle cx="263.3" cy="57.0" r="2.85" fill="#fffddd"/>
<circle cx="159.3" cy="112.0" r="2.85" fill="#e96d13"/>
<circle cx="306.5" cy="162.0" r="2.85" fill="#662506"/>
<circle cx="233.0" cy="97.6" r="2.85" fill="#feac39"/>
<circle cx="224.7" cy="103.5" r="2.85" fill="#f78a21"/>
<circle cx="177.5" cy="127.5" r="2.85" fill="#b24003"/>
<circle cx="296.6" cy="68.2" r="2.85" fill="#fff0ae"/>
<circle cx="122.0" cy="103.8" r="2.85" fill="#f5841e"/>
<circle cx="184.7" cy="72.0" r="2.85" fill="#fff1b0"/>
<circle cx="431.0" cy="77.6" r="2.85" fill="#fff0ad"/>
<circle cx="349.1" cy="71.3" r="2.85" fill="#fff9c6"/>
<circle cx="192.0" cy="90.2" r="2.85" fill="#fec24d"/>
<circle cx="324.7" cy="125.6" r="2.85" fill="#af3f03"/>
<circle cx="65.6" cy="85.6" r="2.85" fill="#fed36e"/>
<circle cx="103.8" cy="87.5" r="2.85" fill="#feca5d"/>
<circle cx="241.1" cy="112.0" r="2.85" fill="#f27f1c"/>
<circle cx="325.6" cy="183.8" r="2.85" fill="#662506"/>
<circle cx="366.5" cy="79.5" r="2.85" fill="#fee290"/>
<circle cx="516.7" cy="56.7" r="2.85" fill="#fffee1"/>
<circle cx="574.6" cy="54.3" r="2.85" fill="#ffffe4"/>
<circle cx="313.3" cy="53.5" r="2.85" fill="#fffddb"/>
<circle cx="536.9" cy="56.9" r="2.85" fill="#fffdda"/>
<circle cx="359.7" cy="58.8" r="2.85" fill="#fffee1"/>
<circle cx="543.5" cy="57.0" r="2.85" fill="#fffddd"/>
<circle cx="112.9" cy="85.6" r="2.85" fill="#feca5d"/>
<circle cx="326.6" cy="99.2" r="2.85" fill="#fead3b"/>
<circle cx="195.6" cy="77.5" r="2.85" fill="#fedd85"/>
<circle cx="359.5" cy="56.6" r="2.85" fill="#fffbd3"/>
<circle cx="552.9" cy="73.8" r="2.85" fill="#fff4b6"/>
<circle cx="345.6" cy="91.2" r="2.85" fill="#fede86"/>
<circle cx="167.5" cy="103.8" r="2.85" fill="#f78a21"/>
<circle cx="226.5" cy="55.3" r="2.85" fill="#fffdd9"/>
<circle cx="309.7" cy="73.5" r="2.85" fill="#fee79a"/>
<circle cx="323.5" cy="64.5" r="2.85" fill="#fff5b7"/>
<circle cx="306.5" cy="205.3" r="2.85" fill="#662506"/>
<circle cx="397.5" cy="56.9" r="2.85" fill="#fffdd9"/>
<circle cx="296.6" cy="63.0" r="2.85" fill="#ffffe5"/>
<circle cx="560.4" cy="57.6" r="2.85" fill="#fffede"/>
<circle cx="334.7" cy="132.0" r="2.85" fill="#c14702"/>
<circle cx="262.3" cy="77.8" r="2.85" fill="#fed068"/>
<circle cx="243.8" cy="110.2" r="2.85" fill="#f27f1c"/>
<circle cx="328.4" cy="102.9" r="2.85" fill="#fb9326"/>
<circle cx="233.5" cy="74.7" r="2.85" fill="#fee89b"/>
<circle cx="289.9" cy="80.4" r="2.85" fill="#fed879"/>
<circle cx="566.0" cy="55.0" r="2.85" fill="#ffffe3"/>
<circle cx="183.8" cy="116.5" r="2.85" fill="#e1640e"/>
<circle cx="314.7" cy="188.4" r="2.85" fill="#662506"/>
<circle cx="151.1" cy="90.2" r="2.85" fill="#fec24d"/>
<circle cx="362.9" cy="110.2" r="2.85" fill="#f27f1c"/>
<circle cx="461.9" cy="61.9" r="2.85" fill="#fffee0"/>
<circle cx="246.4" cy="57.5" r="2.85" fill="#fffdda"/>
<circle cx="345.5" cy="102.0" r="2.85" fill="#feb844"/>
<circle cx="393.0" cy="98.2" r="2.85" fill="#fec450"/>
<circle cx="220.2" cy="80.2" r="2.85" fill="#fed97c"/>
<circle cx="231.1" cy="110.2" r="2.85" fill="#e4670f"/>
<circle cx="260.5" cy="82.5" r="2.85" fill="#fec95a"/>
<circle cx="297.4" cy="96.3" r="2.85" fill="#fec552"/>
<circle cx="171.1" cy="56.5" r="2.85" fill="#fffcd7"/>
<circle cx="385.5" cy="58.6" r="2.85" fill="#fffee2"/>
<circle cx="427.5" cy="73.1" r="2.85" fill="#feeaa1"/>
<circle cx="107.5" cy="63.8" r="2.85" fill="#fffbcf"/>
<circle cx="230.2" cy="129.3" r="2.85" fill="#a23804"/>
<circle cx="251.9" cy="60.8" r="2.85" fill="#fffddb"/>
<circle cx="100.2" cy="75.3" r="2.85" fill="#fee492"/>
<circle cx="321.6" cy="71.1" r="2.85" fill="#fffaca"/>
<circle cx="343.0" cy="98.2" r="2.85" fill="#fea433"/>
<circle cx="371.4" cy="96.1" r="2.85" fill="#feb340"/>
<circle cx="324.2" cy="63.8" r="2.85" fill="#fffee0"/>
<circle cx="89.3" cy="72.4" r="2.85" fill="#fff4b6"/>
<circle cx="329.3" cy="69.0" r="2.85" fill="#fff5b8"/>
<circle cx="206.5" cy="60.2" r="2.85" fill="#fffbd3"/>
<circle cx="297.3" cy="58.7" r="2.85" fill="#ffffe3"/>
<circle cx="461.0" cy="60.0" r="2.85" fill="#fffcd8"/>
<circle cx="302.9" cy="138.4" r="2.85" fill="#812d05"/>
<circle cx="499.5" cy="55.8" r="2.85" fill="#fffcd7"/>
<circle cx="392.9" cy="81.8" r="2.85" fill="#fee493"/>
<circle cx="333.6" cy="58.4" r="2.85" fill="#fffede"/>
<circle cx="358.5" cy="80.7" r="2.85" fill="#fee494"/>
<circle cx="426.7" cy="63.6" r="2.85" fill="#fffbd1"/>
<circle cx="233.5" cy="55.5" r="2.85" fill="#fffddc"/>
<circle cx="531.2" cy="60.6" r="2.85" fill="#fffedd"/>
<circle cx="427.5" cy="71.6" r="2.85" fill="#fffbd0"/>
<circle cx="573.3" cy="61.1" r="2.85" fill="#fffddc"/>
<circle cx="346.5" cy="92.9" r="2.85" fill="#fea635"/>
<circle cx="461.7" cy="53.9" r="2.85" fill="#fffedf"/>
<circle cx="231.1" cy="84.7" r="2.85" fill="#fece65"/>
<circle cx="240.5" cy="86.2" r="2.85" fill="#fece65"/>
<circle cx="198.4" cy="84.7" r="2.85" fill="#fece65"/>
<circle cx="378.0" cy="80.6" r="2.85" fill="#ffefab"/>
<circle cx="233.8" cy="121.1" r="2.85" fill="#e1640e"/>
<circle cx="341.4" cy="66.2" r="2.85" fill="#fffac9"/>
<circle cx="253.8" cy="144.7" r="2.85" fill="#792b05"/>
<circle cx="405.6" cy="127.1" r="2.85" fill="#db5d0b"/>
<circle cx="453.8" cy="104.7" r="2.85" fill="#fea432"/>
<circle cx="132.9" cy="75.6" r="2.85" fill="#fee492"/>
<circle cx="273.9" cy="53.9" r="2.85" fill="#fffcd5"/>
<circle cx="402.2" cy="80.8" r="2.85" fill="#feeca5"/>
<circle cx="382.5" cy="136.5" r="2.85" fill="#ca4b02"/>
<circle cx="189.7" cy="54.9" r="2.85" fill="#fffddc"/>
<circle cx="262.0" cy="129.3" r="2.85" fill="#b24003"/>
<circle cx="387.3" cy="59.3" r="2.85" fill="#fffee2"/>
<circle cx="487.1" cy="60.2" r="2.85" fill="#fffdda"/>
<circle cx="258.2" cy="86.7" r="2.85" fill="#fede86"/>
<circle cx="285.3" cy="53.5" r="2.85" fill="#fffcd6"/>
<circle cx="310.5" cy="68.2" r="2.85" fill="#fffacb"/>
<circle cx="319.2" cy="64.0" r="2.85" fill="#fff1b0"/>
<circle cx="460.2" cy="57.2" r="2.85" fill="#fffcd7"/>
<circle cx="438.4" cy="64.8" r="2.85" fill="#fffacd"/>
<circle cx="565.9" cy="56.1" r="2.85" fill="#ffffe5"/>
<circle cx="444.6" cy="60.3" r="2.85" fill="#fffddb"/>
<circle cx="270.2" cy="54.9" r="2.85" fill="#fffdda"/>
<circle cx="397.8" cy="75.6" r="2.85" fill="#fee392"/>
<circle cx="327.3" cy="93.7" r="2.85" fill="#feb542"/>
<circle cx="323.8" cy="152.0" r="2.85" fill="#662506"/>
<circle cx="338.4" cy="124.7" r="2.85" fill="#db5d0b"/>
<circle cx="367.3" cy="63.0" r="2.85" fill="#fff7be"/>
<circle cx="209.5" cy="55.6" r="2.85" fill="#fffcd8"/>
<circle cx="440.4" cy="60.3" r="2.85" fill="#fffcd8"/>
<circle cx="453.3" cy="56.2" r="2.85" fill="#fffedf"/>
<circle cx="360.2" cy="62.2" r="2.85" fill="#fff6bb"/>
<circle cx="601.2" cy="57.0" r="2.85" fill="#fffee2"/>
<circle cx="312.9" cy="166.5" r="2.85" fill="#662506"/>
<circle cx="462.3" cy="57.0" r="2.85" fill="#fffddb"/>
<circle cx="284.7" cy="103.8" r="2.85" fill="#fa9024"/>
<circle cx="217.5" cy="87.5" r="2.85" fill="#fece65"/>
<circle cx="483.8" cy="66.5" r="2.85" fill="#fff9c4"/>
<circle cx="352.7" cy="66.0" r="2.85" fill="#fff8bf"/>
<circle cx="397.0" cy="71.0" r="2.85" fill="#fff7be"/>
<circle cx="280.4" cy="63.9" r="2.85" fill="#fffcd7"/>
<circle cx="356.1" cy="57.7" r="2.85" fill="#fffbd3"/>
<circle cx="376.1" cy="61.8" r="2.85" fill="#fffcd6"/>
<circle cx="330.2" cy="115.6" r="2.85" fill="#e76a11"/>
<circle cx="484.4" cy="74.7" r="2.85" fill="#ffeda7"/>
<circle cx="281.1" cy="142.9" r="2.85" fill="#812d05"/>
<circle cx="360.2" cy="124.7" r="2.85" fill="#db5d0b"/>
<circle cx="387.0" cy="69.5" r="2.85" fill="#fff6ba"/>
<circle cx="452.9" cy="78.4" r="2.85" fill="#fee08a"/>
<circle cx="83.8" cy="101.5" r="2.85" fill="#fe9b2b"/>
<circle cx="53.8" cy="62.9" r="2.85" fill="#fffcd7"/>
<circle cx="311.8" cy="72.9" r="2.85" fill="#fee596"/>
<circle cx="479.6" cy="73.8" r="2.85" fill="#ffeda7"/>
<circle cx="331.6" cy="65.2" r="2.85" fill="#fff5b9"/>
<circle cx="194.7" cy="58.9" r="2.85" fill="#fffcd8"/>
<circle cx="297.5" cy="149.3" r="2.85" fill="#692606"/>
<circle cx="443.4" cy="53.5" r="2.85" fill="#ffffe3"/>
<circle cx="233.5" cy="61.5" r="2.85" fill="#fffdd9"/>
<circle cx="297.6" cy="96.7" r="2.85" fill="#feb340"/>
<circle cx="278.9" cy="61.8" r="2.85" fill="#fffee0"/>
<circle cx="297.5" cy="88.7" r="2.85" fill="#fec858"/>
<circle cx="446.7" cy="64.8" r="2.85" fill="#fff7bc"/>
<circle cx="435.9" cy="56.3" r="2.85" fill="#fffee0"/>
<circle cx="447.7" cy="56.2" r="2.85" fill="#fffee0"/>
<circle cx="442.2" cy="61.4" r="2.85" fill="#fffede"/>
<circle cx="131.1" cy="112.9" r="2.85" fill="#e96d13"/>
<circle cx="498.9" cy="77.5" r="2.85" fill="#ffeda7"/>
<circle cx="441.1" cy="75.6" r="2.85" fill="#fee492"/>
<circle cx="257.0" cy="54.9" r="2.85" fill="#fffdda"/>
<circle cx="359.0" cy="60.2" r="2.85" fill="#fffede"/>
<circle cx="357.1" cy="95.0" r="2.85" fill="#fe9c2c"/>
<circle cx="91.1" cy="66.2" r="2.85" fill="#fffacd"/>
<circle cx="245.1" cy="62.7" r="2.85" fill="#fffcd5"/>
<circle cx="465.6" cy="93.5" r="2.85" fill="#fec24d"/>
<circle cx="344.7" cy="144.7" r="2.85" fill="#8f3104"/>
<circle cx="231.1" cy="62.9" r="2.85" fill="#fffbd1"/>
<circle cx="353.2" cy="60.4" r="2.85" fill="#fffddd"/>
<circle cx="304.9" cy="88.3" r="2.85" fill="#fed069"/>
<circle cx="476.3" cy="62.7" r="2.85" fill="#fffddd"/>
<circle cx="125.6" cy="63.8" r="2.85" fill="#fffacd"/>
<circle cx="376.5" cy="112.9" r="2.85" fill="#f27f1c"/>
<circle cx="566.8" cy="54.5" r="2.85" fill="#fffddd"/>
<circle cx="267.5" cy="132.0" r="2.85" fill="#af3f03"/>
<circle cx="233.8" cy="110.2" r="2.85" fill="#f27f1c"/>
<circle cx="469.3" cy="75.6" r="2.85" fill="#ffeda7"/>
<circle cx="401.6" cy="89.1" r="2.85" fill="#fee494"/>
<circle cx="305.6" cy="56.1" r="2.85" fill="#ffffe5"/>
<circle cx="434.8" cy="55.1" r="2.85" fill="#fffee0"/>
<circle cx="344.7" cy="108.4" r="2.85" fill="#f78a21"/>
<circle cx="401.6" cy="59.5" r="2.85" fill="#fffdd8"/>
<circle cx="328.4" cy="111.1" r="2.85" fill="#f27f1c"/>
<circle cx="278.6" cy="60.7" r="2.85" fill="#fffede"/>
<circle cx="338.0" cy="61.2" r="2.85" fill="#fffdda"/>
<circle cx="179.3" cy="100.2" r="2.85" fill="#fc9627"/>
<circle cx="556.0" cy="56.2" r="2.85" fill="#ffffe5"/>
<circle cx="212.0" cy="85.6" r="2.85" fill="#fece65"/>
<circle cx="337.5" cy="72.6" r="2.85" fill="#feeba3"/>
<circle cx="397.0" cy="65.1" r="2.85" fill="#fffbd1"/>
<circle cx="335.6" cy="97.8" r="2.85" fill="#fea634"/>
<circle cx="317.0" cy="76.5" r="2.85" fill="#fee28e"/>
<circle cx="358.6" cy="92.1" r="2.85" fill="#feb945"/>
<circle cx="495.6" cy="70.2" r="2.85" fill="#fff8bf"/>
<circle cx="399.6" cy="70.3" r="2.85" fill="#fffac9"/>
<circle cx="212.9" cy="56.0" r="2.85" fill="#fffdd9"/>
<circle cx="402.4" cy="95.0" r="2.85" fill="#fecb5d"/>
<circle cx="349.3" cy="58.8" r="2.85" fill="#fffdd9"/>
<circle cx="235.6" cy="115.6" r="2.85" fill="#e96d13"/>
<circle cx="457.5" cy="93.8" r="2.85" fill="#febc48"/>
<circle cx="528.2" cy="59.3" r="2.85" fill="#ffffe5"/>
<circle cx="248.2" cy="63.9" r="2.85" fill="#fffdda"/>
<circle cx="239.4" cy="91.5" r="2.85" fill="#fed675"/>
<circle cx="417.7" cy="58.8" r="2.85" fill="#fffede"/>
<circle cx="545.3" cy="60.8" r="2.85" fill="#fffdda"/>
<circle cx="449.3" cy="90.2" r="2.85" fill="#feca5d"/>
<circle cx="177.5" cy="57.5" r="2.85" fill="#fffcd7"/>
<circle cx="442.9" cy="58.0" r="2.85" fill="#fffedf"/>
<circle cx="268.6" cy="58.5" r="2.85" fill="#fffdd9"/>
<circle cx="366.6" cy="87.9" r="2.85" fill="#fecf66"/>
<circle cx="298.4" cy="129.3" r="2.85" fill="#b24003"/>
<circle cx="359.5" cy="101.0" r="2.85" fill="#feb541"/>
<circle cx="315.4" cy="99.5" r="2.85" fill="#feb13e"/>
<circle cx="312.6" cy="93.1" r="2.85" fill="#feb441"/>
<circle cx="267.6" cy="98.6" r="2.85" fill="#feb441"/>
<circle cx="203.8" cy="102.9" r="2.85" fill="#f78a21"/>
<circle cx="444.3" cy="56.9" r="2.85" fill="#ffffe5"/>
<circle cx="252.0" cy="109.3" r="2.85" fill="#f27f1c"/>
<circle cx="191.1" cy="127.5" r="2.85" fill="#af3f03"/>
<circle cx="349.0" cy="84.7" r="2.85" fill="#fede87"/>
<circle cx="202.0" cy="61.1" r="2.85" fill="#fffbd3"/>
<circle cx="435.6" cy="72.0" r="2.85" fill="#feeaa1"/>
<circle cx="309.1" cy="62.5" r="2.85" fill="#fffee2"/>
<circle cx="401.5" cy="56.7" r="2.85" fill="#fffcd5"/>
<circle cx="468.9" cy="61.4" r="2.85" fill="#fffede"/>
<circle cx="308.3" cy="55.5" r="2.85" fill="#fffddd"/>
<circle cx="389.9" cy="101.0" r="2.85" fill="#fec04b"/>
<circle cx="241.0" cy="62.8" r="2.85" fill="#fffdd9"/>
<circle cx="56.5" cy="83.8" r="2.85" fill="#fed97c"/>
<circle cx="279.3" cy="156.5" r="2.85" fill="#662506"/>
<circle cx="169.3" cy="116.5" r="2.85" fill="#e1640e"/>
<circle cx="409.7" cy="68.3" r="2.85" fill="#fffacd"/>
<circle cx="335.0" cy="87.9" r="2.85" fill="#fecd63"/>
<circle cx="583.2" cy="60.8" r="2.85" fill="#fffee2"/>
<circle cx="234.7" cy="96.9" r="2.85" fill="#fea231"/>
<circle cx="361.7" cy="93.8" r="2.85" fill="#fead3a"/>
<circle cx="425.6" cy="139.3" r="2.85" fill="#ca4b02"/>
<circle cx="296.6" cy="98.6" r="2.85" fill="#feaf3c"/>
<circle cx="231.1" cy="78.4" r="2.85" fill="#fed97c"/>
<circle cx="364.8" cy="84.4" r="2.85" fill="#fed778"/>
<circle cx="305.4" cy="99.3" r="2.85" fill="#feb844"/>
<circle cx="261.6" cy="91.4" r="2.85" fill="#fed470"/>
<circle cx="568.4" cy="63.3" r="2.85" fill="#fffbd3"/>
<circle cx="252.5" cy="81.7" r="2.85" fill="#fee391"/>
<circle cx="514.0" cy="60.1" r="2.85" fill="#fffcd4"/>
<circle cx="270.3" cy="61.6" r="2.85" fill="#fffcd4"/>
<circle cx="159.3" cy="94.7" r="2.85" fill="#feac3a"/>
<circle cx="349.4" cy="68.0" r="2.85" fill="#fff8c1"/>
<circle cx="92.0" cy="78.9" r="2.85" fill="#fee08a"/>
<circle cx="389.8" cy="58.8" r="2.85" fill="#fffcd7"/>
<circle cx="315.5" cy="72.9" r="2.85" fill="#fee697"/>
<circle cx="306.5" cy="149.3" r="2.85" fill="#692606"/>
<circle cx="378.7" cy="173.8" r="2.85" fill="#662506"/>
<circle cx="554.3" cy="57.1" r="2.85" fill="#fffee0"/>
<circle cx="346.3" cy="56.0" r="2.85" fill="#fffcd4"/>
<circle cx="429.7" cy="62.6" r="2.85" fill="#fff9c6"/>
<circle cx="319.6" cy="78.3" r="2.85" fill="#fee799"/>
<circle cx="216.5" cy="115.6" r="2.85" fill="#e1640e"/>
<circle cx="304.7" cy="166.5" r="2.85" fill="#662506"/>
<circle cx="426.7" cy="69.1" r="2.85" fill="#fffbce"/>
<circle cx="344.3" cy="67.0" r="2.85" fill="#fffacc"/>
<circle cx="548.4" cy="81.5" r="2.85" fill="#ffeda7"/>
<circle cx="360.0" cy="93.6" r="2.85" fill="#feab39"/>
<circle cx="457.3" cy="54.2" r="2.85" fill="#fffee1"/>
<circle cx="223.8" cy="110.2" r="2.85" fill="#e76a11"/>
<circle cx="541.5" cy="61.8" r="2.85" fill="#fffcd6"/>
<circle cx="259.5" cy="57.2" r="2.85" fill="#fffbd2"/>
<circle cx="418.7" cy="55.9" r="2.85" fill="#fffede"/>
<circle cx="384.7" cy="163.3" r="2.85" fill="#662506"/>
<circle cx="605.9" cy="55.6" r="2.85" fill="#fffee0"/>
<circle cx="235.2" cy="55.9" r="2.85" fill="#ffffe3"/>
<circle cx="347.8" cy="59.3" r="2.85" fill="#fffedd"/>
<circle cx="369.8" cy="93.1" r="2.85" fill="#feaf3c"/>
<circle cx="583.1" cy="54.0" r="2.85" fill="#fffddd"/>
<circle cx="403.7" cy="79.2" r="2.85" fill="#fee698"/>
<circle cx="446.5" cy="99.3" r="2.85" fill="#feb13e"/>
<circle cx="285.9" cy="67.6" r="2.85" fill="#ffeea9"/>
<circle cx="150.2" cy="120.2" r="2.85" fill="#d65707"/>
<circle cx="319.0" cy="69.5" r="2.85" fill="#fff3b4"/>
<circle cx="112.0" cy="77.5" r="2.85" fill="#fee08a"/>
<circle cx="400.1" cy="61.0" r="2.85" fill="#fffdda"/>
<circle cx="117.5" cy="87.5" r="2.85" fill="#feca5d"/>
<circle cx="480.9" cy="58.7" r="2.85" fill="#fffede"/>
<circle cx="314.4" cy="79.4" r="2.85" fill="#fee596"/>
<circle cx="246.5" cy="58.2" r="2.85" fill="#fffee1"/>
<circle cx="353.8" cy="103.8" r="2.85" fill="#f98d23"/>
<circle cx="369.3" cy="107.5" r="2.85" fill="#f5841e"/>
<circle cx="329.4" cy="76.7" r="2.85" fill="#fee698"/>
<circle cx="451.1" cy="65.6" r="2.85" fill="#fff4b6"/>
<circle cx="482.2" cy="61.8" r="2.85" fill="#fffddb"/>
<circle cx="244.7" cy="103.8" r="2.85" fill="#fa9024"/>
<circle cx="372.7" cy="69.1" r="2.85" fill="#fffbcf"/>
<circle cx="475.4" cy="55.1" r="2.85" fill="#fffede"/>
<circle cx="324.7" cy="60.1" r="2.85" fill="#fffcd4"/>
<circle cx="415.7" cy="54.6" r="2.85" fill="#fffcd3"/>
<circle cx="560.9" cy="61.3" r="2.85" fill="#fffee2"/>
<circle cx="259.9" cy="97.3" r="2.85" fill="#fe9828"/>
<circle cx="272.9" cy="130.2" r="2.85" fill="#b24003"/>
<circle cx="332.2" cy="70.4" r="2.85" fill="#fff7bc"/>
<circle cx="408.4" cy="60.5" r="2.85" fill="#fffcd4"/>
<circle cx="538.8" cy="54.9" r="2.85" fill="#ffffe3"/>
<circle cx="308.4" cy="114.7" r="2.85" fill="#e96d13"/>
<circle cx="247.5" cy="128.4" r="2.85" fill="#b84203"/>
<circle cx="293.1" cy="93.8" r="2.85" fill="#fea02f"/>
<circle cx="171.1" cy="125.6" r="2.85" fill="#b84203"/>
<circle cx="272.0" cy="159.3" r="2.85" fill="#662506"/>
<circle cx="210.2" cy="73.8" r="2.85" fill="#ffeda7"/>
<circle cx="222.0" cy="66.5" r="2.85" fill="#fff4b6"/>
<circle cx="409.1" cy="62.5" r="2.85" fill="#fff9c6"/>
<circle cx="172.9" cy="111.1" r="2.85" fill="#e96d13"/>
<circle cx="502.3" cy="61.1" r="2.85" fill="#fffede"/>
<circle cx="307.5" cy="56.8" r="2.85" fill="#fffddd"/>
<circle cx="208.4" cy="84.7" r="2.85" fill="#fece65"/>
<circle cx="421.7" cy="86.0" r="2.85" fill="#fee18c"/>
<circle cx="267.5" cy="97.8" r="2.85" fill="#feb03d"/>
<circle cx="537.1" cy="58.2" r="2.85" fill="#fffddb"/>
<circle cx="321.2" cy="64.1" r="2.85" fill="#fff8c0"/>
<circle cx="478.4" cy="176.0" r="2.85" fill="#872f05" fill-opacity="0.72"/>
<circle cx="411.7" cy="63.9" r="2.85" fill="#fffacb"/>
<circle cx="227.5" cy="91.1" r="2.85" fill="#febc48"/>
<circle cx="356.0" cy="94.0" r="2.85" fill="#fec44f"/>
<circle cx="243.3" cy="56.5" r="2.85" fill="#fffcd6"/>
<circle cx="375.8" cy="58.9" r="2.85" fill="#fffddd"/>
<circle cx="302.0" cy="177.5" r="2.85" fill="#662506"/>
<circle cx="598.0" cy="56.0" r="2.85" fill="#ffffe5"/>
<circle cx="378.4" cy="141.1" r="2.85" fill="#bc4503"/>
<circle cx="343.3" cy="75.4" r="2.85" fill="#fff0ac"/>
<circle cx="275.6" cy="112.0" r="2.85" fill="#f27f1c"/>
<circle cx="231.1" cy="104.7" r="2.85" fill="#f5841e"/>
<circle cx="450.2" cy="85.6" r="2.85" fill="#fece65"/>
<circle cx="299.3" cy="137.5" r="2.85" fill="#872f05"/>
<circle cx="290.2" cy="179.3" r="2.85" fill="#662506"/>
<circle cx="319.4" cy="74.2" r="2.85" fill="#fed675"/>
<circle cx="450.6" cy="59.5" r="2.85" fill="#fffee1"/>
<circle cx="90.2" cy="100.7" r="2.85" fill="#fe9b2b"/>
<circle cx="250.2" cy="56.4" r="2.85" fill="#fffdd9"/>
<circle cx="529.1" cy="62.1" r="2.85" fill="#fffcd5"/>
<circle cx="279.3" cy="151.1" r="2.85" fill="#692606"/>
<circle cx="331.4" cy="74.6" r="2.85" fill="#fee99e"/>
<circle cx="217.5" cy="128.4" r="2.85" fill="#aa3c03"/>
<circle cx="220.9" cy="54.2" r="2.85" fill="#fffcd7"/>
<circle cx="524.0" cy="59.6" r="2.85" fill="#fffede"/>
<circle cx="321.3" cy="60.8" r="2.85" fill="#fffdda"/>
<circle cx="173.8" cy="78.9" r="2.85" fill="#fee492"/>
<circle cx="440.2" cy="101.1" r="2.85" fill="#fea937"/>
<circle cx="226.5" cy="96.5" r="2.85" fill="#fea635"/>
<circle cx="566.8" cy="61.3" r="2.85" fill="#fffdda"/>
<circle cx="390.9" cy="53.8" r="2.85" fill="#fffddc"/>
<circle cx="276.5" cy="117.5" r="2.85" fill="#e96d13"/>
<circle cx="306.5" cy="103.8" r="2.85" fill="#fa9024"/>
<circle cx="418.2" cy="63.6" r="2.85" fill="#fffbd1"/>
<circle cx="422.2" cy="60.1" r="2.85" fill="#fffbd3"/>
<circle cx="577.8" cy="58.4" r="2.85" fill="#ffffe5"/>
<circle cx="275.7" cy="91.0" r="2.85" fill="#fed470"/>
<circle cx="365.6" cy="108.4" r="2.85" fill="#f5841e"/>
<circle cx="368.2" cy="95.9" r="2.85" fill="#feb13e"/>
<circle cx="324.4" cy="100.5" r="2.85" fill="#feb643"/>
<circle cx="265.2" cy="55.7" r="2.85" fill="#fffcd6"/>
<circle cx="217.5" cy="95.6" r="2.85" fill="#fea937"/>
<circle cx="192.0" cy="69.3" r="2.85" fill="#fff1b0"/>
<circle cx="257.5" cy="130.2" r="2.85" fill="#b24003"/>
<circle cx="126.5" cy="94.7" r="2.85" fill="#feb13e"/>
<circle cx="590.7" cy="61.8" r="2.85" fill="#fffddb"/>
<circle cx="302.9" cy="173.8" r="2.85" fill="#662506"/>
<circle cx="306.5" cy="152.9" r="2.85" fill="#662506"/>
<circle cx="338.4" cy="73.2" r="2.85" fill="#feeca5"/>
<circle cx="304.8" cy="58.0" r="2.85" fill="#fffede"/>
<circle cx="217.5" cy="100.2" r="2.85" fill="#fc9627"/>
<circle cx="261.9" cy="55.5" r="2.85" fill="#ffffe3"/>
<circle cx="331.1" cy="94.2" r="2.85" fill="#fea433"/>
<circle cx="360.9" cy="54.7" r="2.85" fill="#fffddb"/>
<circle cx="299.7" cy="86.5" r="2.85" fill="#fed068"/>
<circle cx="82.9" cy="85.6" r="2.85" fill="#fece65"/>
<circle cx="165.6" cy="113.8" r="2.85" fill="#e96d13"/>
<circle cx="470.1" cy="54.7" r="2.85" fill="#fffdda"/>
<circle cx="295.6" cy="157.5" r="2.85" fill="#662506"/>
<circle cx="295.6" cy="119.3" r="2.85" fill="#e1640e"/>
<circle cx="391.6" cy="69.9" r="2.85" fill="#fffaca"/>
<circle cx="217.5" cy="90.2" r="2.85" fill="#fec24d"/>
<circle cx="328.7" cy="86.5" r="2.85" fill="#fed470"/>
<circle cx="307.8" cy="79.1" r="2.85" fill="#fee79a"/>
<circle cx="396.5" cy="71.0" r="2.85" fill="#fffaca"/>
<circle cx="158.4" cy="91.1" r="2.85" fill="#fec24d"/>
<circle cx="244.6" cy="84.1" r="2.85" fill="#fede86"/>
<circle cx="461.1" cy="94.7" r="2.85" fill="#febc48"/>
<circle cx="352.9" cy="122.9" r="2.85" fill="#e1640e"/>
<circle cx="258.6" cy="95.5" r="2.85" fill="#fea937"/>
<circle cx="259.6" cy="101.9" r="2.85" fill="#feb13e"/>
<circle cx="428.4" cy="74.3" r="2.85" fill="#fee08b"/>
<circle cx="253.6" cy="102.0" r="2.85" fill="#fea332"/>
<circle cx="402.5" cy="87.2" r="2.85" fill="#fee596"/>
<circle cx="359.3" cy="120.2" r="2.85" fill="#e1640e"/>
<circle cx="452.9" cy="103.8" r="2.85" fill="#fea635"/>
<circle cx="407.1" cy="59.6" r="2.85" fill="#fffddc"/>
<circle cx="405.6" cy="69.8" r="2.85" fill="#fffaca"/>
<circle cx="266.8" cy="57.6" r="2.85" fill="#fffcd6"/>
<circle cx="286.5" cy="115.6" r="2.85" fill="#e96d13"/>
<circle cx="338.7" cy="76.1" r="2.85" fill="#fedf88"/>
<circle cx="384.2" cy="70.1" r="2.85" fill="#fff8c0"/>
<circle cx="370.2" cy="102.9" r="2.85" fill="#fa9024"/>
<circle cx="394.2" cy="61.8" r="2.85" fill="#fffcd6"/>
<circle cx="257.7" cy="56.3" r="2.85" fill="#fffddc"/>
<circle cx="282.9" cy="180.2" r="2.85" fill="#662506"/>
<circle cx="342.9" cy="115.6" r="2.85" fill="#ef7818"/>
<circle cx="521.1" cy="62.9" r="2.85" fill="#fffacd"/>
<circle cx="150.2" cy="100.7" r="2.85" fill="#fc9627"/>
<circle cx="363.3" cy="80.2" r="2.85" fill="#fee89c"/>
<circle cx="430.5" cy="57.9" r="2.85" fill="#fffdda"/>
<circle cx="472.8" cy="54.0" r="2.85" fill="#ffffe5"/>
<circle cx="322.9" cy="79.0" r="2.85" fill="#fee392"/>
<circle cx="65.6" cy="91.1" r="2.85" fill="#fec24d"/>
<circle cx="486.9" cy="61.1" r="2.85" fill="#fffcd5"/>
<circle cx="165.6" cy="95.6" r="2.85" fill="#feac3a"/>
<circle cx="380.0" cy="66.5" r="2.85" fill="#fff9c7"/>
<circle cx="233.5" cy="60.8" r="2.85" fill="#fffdda"/>
<circle cx="384.7" cy="84.3" r="2.85" fill="#fece64"/>
<circle cx="288.5" cy="57.8" r="2.85" fill="#fffcd4"/>
<circle cx="413.3" cy="62.4" r="2.85" fill="#fffacb"/>
<circle cx="492.5" cy="64.4" r="2.85" fill="#fffcd6"/>
<circle cx="296.0" cy="63.4" r="2.85" fill="#fffdda"/>
<circle cx="515.0" cy="60.5" r="2.85" fill="#fffcd6"/>
<circle cx="610.1" cy="56.3" r="2.85" fill="#fffddc"/>
<circle cx="359.5" cy="93.7" r="2.85" fill="#feb13e"/>
<circle cx="361.6" cy="76.4" r="2.85" fill="#fee79a"/>
<circle cx="313.2" cy="84.5" r="2.85" fill="#fed87a"/>
<circle cx="376.1" cy="63.0" r="2.85" fill="#fff9c4"/>
<circle cx="290.2" cy="168.4" r="2.85" fill="#662506"/>
<circle cx="225.3" cy="57.2" r="2.85" fill="#fffddd"/>
<circle cx="190.3" cy="59.7" r="2.85" fill="#fffcd6"/>
<circle cx="515.4" cy="60.8" r="2.85" fill="#fffede"/>
<circle cx="346.5" cy="125.6" r="2.85" fill="#d65707"/>
<circle cx="335.6" cy="53.5" r="2.85" fill="#fffbd2"/>
<circle cx="226.5" cy="115.6" r="2.85" fill="#e1640e"/>
<circle cx="238.4" cy="65.3" r="2.85" fill="#ffeea8"/>
<circle cx="324.0" cy="83.9" r="2.85" fill="#fed573"/>
<circle cx="349.4" cy="60.8" r="2.85" fill="#fffede"/>
<circle cx="130.2" cy="118.4" r="2.85" fill="#db5d0b"/>
<circle cx="262.8" cy="58.5" r="2.85" fill="#fffedf"/>
<circle cx="204.7" cy="128.4" r="2.85" fill="#aa3c03"/>
<circle cx="221.1" cy="64.7" r="2.85" fill="#fffbcf"/>
<circle cx="340.3" cy="65.2" r="2.85" fill="#fff6bb"/>
<circle cx="275.3" cy="92.0" r="2.85" fill="#feca5b"/>
<circle cx="482.0" cy="122.9" r="2.85" fill="#e96d13"/>
<circle cx="256.0" cy="88.4" r="2.85" fill="#fec857"/>
<circle cx="554.5" cy="53.9" r="2.85" fill="#fffddb"/>
<circle cx="278.8" cy="69.4" r="2.85" fill="#fff0ad"/>
<circle cx="86.5" cy="78.4" r="2.85" fill="#fee492"/>
<circle cx="158.4" cy="117.5" r="2.85" fill="#e1640e"/>
<circle cx="372.9" cy="92.4" r="2.85" fill="#fa8f24"/>
<circle cx="323.2" cy="79.6" r="2.85" fill="#fee99f"/>
<circle cx="230.1" cy="55.2" r="2.85" fill="#fffddb"/>
<circle cx="392.0" cy="60.2" r="2.85" fill="#fffedd"/>
<circle cx="413.4" cy="65.5" r="2.85" fill="#fffaca"/>
<circle cx="323.8" cy="118.4" r="2.85" fill="#e1640e"/>
<circle cx="370.9" cy="86.9" r="2.85" fill="#fede86"/>
<circle cx="413.4" cy="67.6" r="2.85" fill="#fff6b9"/>
<circle cx="233.7" cy="54.3" r="2.85" fill="#fffdda"/>
<circle cx="333.0" cy="69.2" r="2.85" fill="#ffefab"/>
<circle cx="300.8" cy="58.4" r="2.85" fill="#fffcd8"/>
<circle cx="361.2" cy="94.7" r="2.85" fill="#feb642"/>
<circle cx="539.3" cy="70.5" r="2.85" fill="#fff8bf"/>
<circle cx="347.2" cy="95.8" r="2.85" fill="#feba46"/>
<circle cx="272.9" cy="95.6" r="2.85" fill="#fe9f2f"/>
<circle cx="219.3" cy="84.7" r="2.85" fill="#fece65"/>
<circle cx="72.0" cy="99.6" r="2.85" fill="#fea937"/>
<circle cx="436.0" cy="53.7" r="2.85" fill="#fffddc"/>
<circle cx="386.0" cy="82.7" r="2.85" fill="#fecd62"/>
<circle cx="212.0" cy="103.5" r="2.85" fill="#f78a21"/>
<circle cx="460.3" cy="59.7" r="2.85" fill="#ffffe3"/>
<circle cx="266.5" cy="103.8" r="2.85" fill="#fa9024"/>
<circle cx="325.8" cy="69.3" r="2.85" fill="#fff7bb"/>
<circle cx="369.4" cy="97.5" r="2.85" fill="#feb23f"/>
<circle cx="435.6" cy="90.2" r="2.85" fill="#feca5d"/>
<circle cx="298.3" cy="92.2" r="2.85" fill="#fea433"/>
<circle cx="274.0" cy="101.0" r="2.85" fill="#fea02f"/>
<circle cx="592.9" cy="61.0" r="2.85" fill="#fffedf"/>
<circle cx="466.9" cy="53.3" r="2.85" fill="#fffddb"/>
<circle cx="254.7" cy="115.6" r="2.85" fill="#e96d13"/>
<circle cx="276.9" cy="94.6" r="2.85" fill="#feb13e"/>
<circle cx="468.3" cy="54.9" r="2.85" fill="#fffddd"/>
<circle cx="213.8" cy="135.6" r="2.85" fill="#812d05"/>
<circle cx="313.7" cy="54.7" r="2.85" fill="#fffedf"/>
<circle cx="611.7" cy="56.3" r="2.85" fill="#fffddb"/>
<circle cx="394.3" cy="77.0" r="2.85" fill="#fee89c"/>
<circle cx="323.8" cy="189.3" r="2.85" fill="#662506"/>
<circle cx="215.6" cy="75.6" r="2.85" fill="#fedd85"/>
<circle cx="405.9" cy="81.3" r="2.85" fill="#fee99e"/>
<circle cx="248.9" cy="74.9" r="2.85" fill="#feeba2"/>
<circle cx="206.5" cy="68.4" r="2.85" fill="#fff1b0"/>
<circle cx="310.7" cy="63.1" r="2.85" fill="#fffedf"/>
<circle cx="378.1" cy="97.9" r="2.85" fill="#feaf3d"/>
<circle cx="367.0" cy="56.7" r="2.85" fill="#fffdda"/>
<circle cx="429.9" cy="83.3" r="2.85" fill="#fedb7f"/>
<circle cx="334.4" cy="74.9" r="2.85" fill="#fee99e"/>
<circle cx="283.8" cy="55.9" r="2.85" fill="#fffcd5"/>
<circle cx="520.9" cy="59.3" r="2.85" fill="#ffffe3"/>
<circle cx="300.1" cy="55.1" r="2.85" fill="#fffcd5"/>
<circle cx="280.9" cy="83.2" r="2.85" fill="#fec95a"/>
<circle cx="290.1" cy="91.8" r="2.85" fill="#fece65"/>
<circle cx="101.1" cy="79.3" r="2.85" fill="#fee08a"/>
<circle cx="341.1" cy="81.9" r="2.85" fill="#fed97b"/>
<circle cx="101.1" cy="64.4" r="2.85" fill="#fffbcf"/>
<circle cx="267.5" cy="120.2" r="2.85" fill="#e1640e"/>
<circle cx="189.3" cy="80.7" r="2.85" fill="#fedd85"/>
<circle cx="342.0" cy="97.6" r="2.85" fill="#fec34e"/>
<circle cx="364.8" cy="69.3" r="2.85" fill="#fff0ad"/>
<circle cx="553.6" cy="64.4" r="2.85" fill="#ffffe5"/>
<circle cx="256.5" cy="111.1" r="2.85" fill="#f27f1c"/>
<circle cx="394.8" cy="58.9" r="2.85" fill="#fffdd9"/>
<circle cx="317.5" cy="143.8" r="2.85" fill="#792b05"/>
<circle cx="319.5" cy="55.2" r="2.85" fill="#fffddc"/>
<circle cx="374.5" cy="74.0" r="2.85" fill="#feeaa0"/>
<circle cx="326.9" cy="87.5" r="2.85" fill="#fecd63"/>
<circle cx="374.9" cy="62.1" r="2.85" fill="#ffeea8"/>
<circle cx="148.4" cy="95.6" r="2.85" fill="#fea937"/>
<circle cx="370.1" cy="100.2" r="2.85" fill="#febb47"/>
<circle cx="555.2" cy="54.8" r="2.85" fill="#ffffe5"/>
<circle cx="501.0" cy="61.1" r="2.85" fill="#fffee2"/>
<circle cx="316.9" cy="91.9" r="2.85" fill="#fed676"/>
<circle cx="302.7" cy="55.6" r="2.85" fill="#fffddb"/>
<circle cx="464.1" cy="59.7" r="2.85" fill="#fffdd9"/>
<circle cx="372.7" cy="56.4" r="2.85" fill="#ffffe3"/>
<circle cx="108.4" cy="70.2" r="2.85" fill="#fff8bf"/>
<circle cx="411.5" cy="69.0" r="2.85" fill="#fffbd1"/>
<circle cx="610.4" cy="55.1" r="2.85" fill="#ffffe5"/>
<circle cx="430.2" cy="60.7" r="2.85" fill="#fffedf"/>
<circle cx="391.1" cy="68.4" r="2.85" fill="#fffaca"/>
<circle cx="520.3" cy="61.7" r="2.85" fill="#fffee2"/>
<circle cx="308.0" cy="84.9" r="2.85" fill="#fee390"/>
<circle cx="504.8" cy="66.9" r="2.85" fill="#fffcd3"/>
<circle cx="272.4" cy="54.9" r="2.85" fill="#fffdda"/>
<circle cx="247.0" cy="97.5" r="2.85" fill="#feb23f"/>
<circle cx="437.4" cy="60.1" r="2.85" fill="#fffee2"/>
<circle cx="247.5" cy="148.4" r="2.85" fill="#712806"/>
<circle cx="601.1" cy="64.4" r="2.85" fill="#fffbd3"/>
<circle cx="364.1" cy="55.2" r="2.85" fill="#fffddd"/>
<circle cx="347.9" cy="69.8" r="2.85" fill="#ffeda7"/>
<circle cx="392.3" cy="61.5" r="2.85" fill="#fffee1"/>
<circle cx="360.0" cy="79.1" r="2.85" fill="#fee89c"/>
<circle cx="292.0" cy="116.5" r="2.85" fill="#e96d13"/>
<circle cx="324.2" cy="57.9" r="2.85" fill="#fffdda"/>
<circle cx="126.5" cy="108.9" r="2.85" fill="#ef7818"/>
<circle cx="410.5" cy="60.5" r="2.85" fill="#fffee0"/>
<circle cx="466.3" cy="61.9" r="2.85" fill="#fffee1"/>
<circle cx="334.7" cy="61.4" r="2.85" fill="#fffcd8"/>
<circle cx="116.5" cy="107.8" r="2.85" fill="#f27f1c"/>
<circle cx="566.7" cy="58.1" r="2.85" fill="#fffedf"/>
<circle cx="231.1" cy="95.6" r="2.85" fill="#fea937"/>
<circle cx="302.1" cy="89.4" r="2.85" fill="#feca5c"/>
<circle cx="504.3" cy="53.3" r="2.85" fill="#fffdd9"/>
<circle cx="313.8" cy="54.7" r="2.85" fill="#fffdd9"/>
<circle cx="458.4" cy="78.4" r="2.85" fill="#fedd85"/>
<circle cx="401.4" cy="59.4" r="2.85" fill="#fffcd7"/>
<circle cx="268.8" cy="93.1" r="2.85" fill="#fea130"/>
<circle cx="366.3" cy="77.9" r="2.85" fill="#fee89c"/>
<circle cx="329.7" cy="82.0" r="2.85" fill="#fee99e"/>
<circle cx="457.5" cy="102.0" r="2.85" fill="#fea937"/>
<circle cx="242.1" cy="100.5" r="2.85" fill="#fea837"/>
<circle cx="321.2" cy="85.7" r="2.85" fill="#fed36f"/>
<circle cx="424.6" cy="81.9" r="2.85" fill="#ffefac"/>
<circle cx="344.9" cy="97.2" r="2.85" fill="#feb340"/>
<circle cx="490.8" cy="54.1" r="2.85" fill="#fffdda"/>
<circle cx="525.0" cy="60.0" r="2.85" fill="#fffedf"/>
<circle cx="326.5" cy="142.9" r="2.85" fill="#742905"/>
<circle cx="200.2" cy="113.8" r="2.85" fill="#e1640e"/>
<circle cx="457.8" cy="65.0" r="2.85" fill="#ffefab"/>
<circle cx="263.5" cy="57.2" r="2.85" fill="#fffcd7"/>
<circle cx="526.5" cy="71.1" r="2.85" fill="#fff8bf"/>
<circle cx="351.6" cy="100.7" r="2.85" fill="#feb440"/>
<circle cx="243.2" cy="74.7" r="2.85" fill="#fedf88"/>
<circle cx="360.8" cy="62.2" r="2.85" fill="#fff8bf"/>
<circle cx="175.4" cy="58.0" r="2.85" fill="#fffcd6"/>
<circle cx="276.5" cy="166.5" r="2.85" fill="#662506"/>
<circle cx="261.1" cy="135.6" r="2.85" fill="#9c3604"/>
<circle cx="193.8" cy="73.5" r="2.85" fill="#ffefaa"/>
<circle cx="429.9" cy="77.2" r="2.85" fill="#fee99e"/>
<circle cx="559.3" cy="65.6" r="2.85" fill="#fffbcf"/>
<circle cx="321.2" cy="80.9" r="2.85" fill="#fee18e"/>
<circle cx="284.2" cy="67.2" r="2.85" fill="#fff4b6"/>
<circle cx="282.8" cy="93.5" r="2.85" fill="#feae3c"/>
<circle cx="369.2" cy="62.6" r="2.85" fill="#feeca4"/>
<circle cx="443.4" cy="56.1" r="2.85" fill="#fffee0"/>
<circle cx="265.6" cy="56.1" r="2.85" fill="#fffdda"/>
<circle cx="139.3" cy="93.8" r="2.85" fill="#feac3a"/>
<circle cx="337.3" cy="66.4" r="2.85" fill="#fff6b9"/>
<circle cx="423.0" cy="71.6" r="2.85" fill="#fffbcf"/>
<circle cx="440.5" cy="59.7" r="2.85" fill="#ffffe3"/>
<circle cx="323.1" cy="64.6" r="2.85" fill="#fff9c6"/>
<circle cx="275.3" cy="99.8" r="2.85" fill="#fead3a"/>
<circle cx="318.9" cy="90.2" r="2.85" fill="#fec959"/>
<circle cx="332.3" cy="92.5" r="2.85" fill="#fea433"/>
<circle cx="168.4" cy="110.2" r="2.85" fill="#ee7416"/>
<circle cx="548.0" cy="58.0" r="2.85" fill="#fffddb"/>
<circle cx="354.4" cy="62.3" r="2.85" fill="#fff6b9"/>
<circle cx="270.2" cy="110.2" r="2.85" fill="#f27f1c"/>
<circle cx="391.7" cy="76.2" r="2.85" fill="#fee596"/>
<circle cx="546.0" cy="55.6" r="2.85" fill="#fffee1"/>
<circle cx="434.8" cy="60.8" r="2.85" fill="#fffddc"/>
<circle cx="212.0" cy="78.4" r="2.85" fill="#fedb80"/>
<circle cx="228.4" cy="118.4" r="2.85" fill="#db5d0b"/>
<circle cx="302.0" cy="126.5" r="2.85" fill="#b24003"/>
<circle cx="403.3" cy="70.1" r="2.85" fill="#fff9c6"/>
<circle cx="361.2" cy="57.1" r="2.85" fill="#fffdda"/>
<circle cx="232.6" cy="58.2" r="2.85" fill="#fffdda"/>
<circle cx="382.0" cy="64.6" r="2.85" fill="#fffaca"/>
<circle cx="453.0" cy="62.2" r="2.85" fill="#fffdd8"/>
<circle cx="113.5" cy="65.6" r="2.85" fill="#fffacd"/>
<circle cx="558.8" cy="65.9" r="2.85" fill="#fffcd6"/>
<circle cx="419.3" cy="146.5" r="2.85" fill="#b84203"/>
<circle cx="226.5" cy="69.3" r="2.85" fill="#fff1b0"/>
<circle cx="145.6" cy="55.3" r="2.85" fill="#fffddb"/>
<circle cx="282.9" cy="111.1" r="2.85" fill="#f27f1c"/>
<circle cx="146.5" cy="114.7" r="2.85" fill="#e96d13"/>
<circle cx="222.9" cy="124.7" r="2.85" fill="#b84203"/>
<circle cx="291.1" cy="128.4" r="2.85" fill="#b24003"/>
<circle cx="334.8" cy="53.6" r="2.85" fill="#fffcd5"/>
<circle cx="278.2" cy="63.9" r="2.85" fill="#fffdda"/>
<circle cx="349.0" cy="64.1" r="2.85" fill="#fff7bc"/>
<circle cx="431.1" cy="71.9" r="2.85" fill="#fffacc"/>
<circle cx="544.7" cy="62.0" r="2.85" fill="#fffbd3"/>
<circle cx="227.5" cy="86.5" r="2.85" fill="#feca5d"/>
<circle cx="178.4" cy="110.2" r="2.85" fill="#e96d13"/>
<circle cx="578.2" cy="58.1" r="2.85" fill="#ffffe5"/>
<circle cx="253.5" cy="56.4" r="2.85" fill="#fffddc"/>
<circle cx="289.7" cy="66.9" r="2.85" fill="#ffefaa"/>
<circle cx="337.9" cy="63.4" r="2.85" fill="#fff6ba"/>
<circle cx="280.8" cy="93.4" r="2.85" fill="#fea937"/>
<circle cx="257.1" cy="57.8" r="2.85" fill="#fffedd"/>
<circle cx="219.3" cy="71.1" r="2.85" fill="#ffefaa"/>
<circle cx="206.5" cy="90.2" r="2.85" fill="#fec24d"/>
<circle cx="130.2" cy="65.6" r="2.85" fill="#fff9c7"/>
<circle cx="413.1" cy="95.9" r="2.85" fill="#febe4a"/>
<circle cx="310.3" cy="66.9" r="2.85" fill="#fff3b3"/>
<circle cx="347.5" cy="115.6" r="2.85" fill="#ef7818"/>
<circle cx="340.2" cy="110.2" r="2.85" fill="#f5841e"/>
<circle cx="244.9" cy="95.8" r="2.85" fill="#fea634"/>
<circle cx="144.7" cy="103.8" r="2.85" fill="#f98d23"/>
<circle cx="350.7" cy="56.1" r="2.85" fill="#fffcd3"/>
<circle cx="404.1" cy="67.2" r="2.85" fill="#fffbce"/>
<circle cx="309.7" cy="55.0" r="2.85" fill="#fffddc"/>
<circle cx="57.5" cy="81.1" r="2.85" fill="#fed97c"/>
<circle cx="559.5" cy="61.9" r="2.85" fill="#fffedf"/>
<circle cx="469.2" cy="58.9" r="2.85" fill="#ffffe3"/>
<circle cx="432.2" cy="65.9" r="2.85" fill="#fff8c0"/>
<circle cx="277.5" cy="61.2" r="2.85" fill="#fffddb"/>
<circle cx="235.8" cy="58.5" r="2.85" fill="#fffcd4"/>
<circle cx="346.1" cy="97.0" r="2.85" fill="#fe9e2d"/>
<circle cx="312.0" cy="98.1" r="2.85" fill="#fec44f"/>
<circle cx="340.5" cy="70.6" r="2.85" fill="#fff9c6"/>
<circle cx="344.6" cy="64.7" r="2.85" fill="#fffbd0"/>
<circle cx="532.9" cy="69.3" r="2.85" fill="#fff8bf"/>
<circle cx="280.9" cy="58.1" r="2.85" fill="#fffcd4"/>
<circle cx="184.7" cy="102.0" r="2.85" fill="#f98d23"/>
<circle cx="269.3" cy="115.6" r="2.85" fill="#e96d13"/>
<circle cx="357.1" cy="68.8" r="2.85" fill="#feeba2"/>
<circle cx="616.9" cy="62.0" r="2.85" fill="#ffffe5"/>
<circle cx="344.5" cy="96.4" r="2.85" fill="#feab39"/>
<circle cx="374.6" cy="73.0" r="2.85" fill="#ffeea8"/>
<circle cx="367.3" cy="99.9" r="2.85" fill="#feb23f"/>
<circle cx="371.3" cy="88.5" r="2.85" fill="#fee391"/>
<circle cx="290.7" cy="218.4" r="2.85" fill="#662506"/>
<circle cx="308.5" cy="99.8" r="2.85" fill="#fea635"/>
<circle cx="241.1" cy="94.0" r="2.85" fill="#fead3b"/>
<circle cx="304.1" cy="91.9" r="2.85" fill="#fed16a"/>
<circle cx="398.9" cy="61.4" r="2.85" fill="#fffdd9"/>
<circle cx="279.4" cy="94.7" r="2.85" fill="#feb03d"/>
<circle cx="377.4" cy="80.7" r="2.85" fill="#ffeea9"/>
<circle cx="286.5" cy="132.9" r="2.85" fill="#9c3604"/>
<circle cx="122.9" cy="95.6" r="2.85" fill="#fea937"/>
<circle cx="362.8" cy="57.3" r="2.85" fill="#ffffe3"/>
<circle cx="280.2" cy="138.4" r="2.85" fill="#973304"/>
<circle cx="263.6" cy="89.2" r="2.85" fill="#fed470"/>
<circle cx="568.6" cy="54.2" r="2.85" fill="#fffee0"/>
<circle cx="616.1" cy="55.3" r="2.85" fill="#fffee0"/>
<circle cx="231.1" cy="121.1" r="2.85" fill="#d05104"/>
<circle cx="325.6" cy="101.4" r="2.85" fill="#feac3a"/>
<circle cx="222.9" cy="100.7" r="2.85" fill="#fc9627"/>
<circle cx="307.5" cy="207.5" r="2.85" fill="#662506"/>
<circle cx="468.1" cy="58.2" r="2.85" fill="#fffdda"/>
<circle cx="355.6" cy="102.0" r="2.85" fill="#fa9024"/>
<circle cx="192.0" cy="53.7" r="2.85" fill="#fffbd3"/>
<circle cx="397.2" cy="68.8" r="2.85" fill="#fff9c5"/>
<circle cx="90.2" cy="93.8" r="2.85" fill="#feb743"/>
<circle cx="400.5" cy="89.4" r="2.85" fill="#fedb7f"/>
<circle cx="329.3" cy="129.3" r="2.85" fill="#ad3d03"/>
<circle cx="177.8" cy="55.2" r="2.85" fill="#fffdd9"/>
<circle cx="257.9" cy="82.6" r="2.85" fill="#fecb5e"/>
<circle cx="380.9" cy="87.1" r="2.85" fill="#feda7e"/>
<circle cx="464.7" cy="55.1" r="2.85" fill="#fffddc"/>
<circle cx="407.8" cy="71.9" r="2.85" fill="#fff9c4"/>
<circle cx="436.5" cy="79.3" r="2.85" fill="#fee08a"/>
<circle cx="322.9" cy="180.2" r="2.85" fill="#662506"/>
<circle cx="195.6" cy="135.6" r="2.85" fill="#872f05"/>
<circle cx="269.2" cy="72.2" r="2.85" fill="#fed26c"/>
<circle cx="82.9" cy="76.5" r="2.85" fill="#fee492"/>
<circle cx="240.1" cy="54.9" r="2.85" fill="#fffddc"/>
<circle cx="72.0" cy="80.7" r="2.85" fill="#fed97c"/>
<circle cx="375.2" cy="62.8" r="2.85" fill="#ffface"/>
<circle cx="354.9" cy="61.5" r="2.85" fill="#fffcd4"/>
<circle cx="310.7" cy="66.0" r="2.85" fill="#fff4b6"/>
<circle cx="224.7" cy="88.4" r="2.85" fill="#fec24d"/>
<circle cx="492.4" cy="54.3" r="2.85" fill="#fffedf"/>
<circle cx="300.0" cy="72.5" r="2.85" fill="#fee79b"/>
<circle cx="182.0" cy="62.0" r="2.85" fill="#fffbd3"/>
<circle cx="486.8" cy="60.7" r="2.85" fill="#fffcd6"/>
<circle cx="354.7" cy="68.1" r="2.85" fill="#fff8c2"/>
<circle cx="347.5" cy="120.2" r="2.85" fill="#e76a11"/>
<circle cx="269.2" cy="94.4" r="2.85" fill="#fea736"/>
<circle cx="348.4" cy="69.9" r="2.85" fill="#fff5b7"/>
<circle cx="584.7" cy="64.4" r="2.85" fill="#fffbd3"/>
<circle cx="97.5" cy="64.7" r="2.85" fill="#fffbcf"/>
<circle cx="593.8" cy="58.1" r="2.85" fill="#fffddc"/>
<circle cx="509.3" cy="66.2" r="2.85" fill="#fffedf"/>
<circle cx="208.4" cy="81.1" r="2.85" fill="#fedb80"/>
<circle cx="365.6" cy="102.9" r="2.85" fill="#fa9024"/>
<circle cx="196.5" cy="107.5" r="2.85" fill="#ef7818"/>
<circle cx="284.7" cy="95.6" r="2.85" fill="#feae3c"/>
<circle cx="256.0" cy="89.0" r="2.85" fill="#feca5d"/>
<circle cx="254.3" cy="74.0" r="2.85" fill="#fee391"/>
<circle cx="330.5" cy="93.4" r="2.85" fill="#feb340"/>
<circle cx="324.1" cy="69.5" r="2.85" fill="#fff4b6"/>
<circle cx="590.6" cy="53.6" r="2.85" fill="#ffffe4"/>
<circle cx="277.4" cy="93.4" r="2.85" fill="#fec24d"/>
<circle cx="421.1" cy="69.1" r="2.85" fill="#feeaa0"/>
<circle cx="333.6" cy="60.8" r="2.85" fill="#fffee0"/>
<circle cx="284.5" cy="80.3" r="2.85" fill="#fee89b"/>
<circle cx="581.3" cy="61.9" r="2.85" fill="#ffffe5"/>
<circle cx="80.2" cy="91.1" r="2.85" fill="#fec24d"/>
<circle cx="329.0" cy="92.2" r="2.85" fill="#feb541"/>
<circle cx="262.2" cy="55.0" r="2.85" fill="#fffddc"/>
<circle cx="370.4" cy="72.2" r="2.85" fill="#fee799"/>
<circle cx="185.6" cy="125.6" r="2.85" fill="#b84203"/>
<circle cx="312.8" cy="81.2" r="2.85" fill="#fee493"/>
<circle cx="326.0" cy="56.4" r="2.85" fill="#fffcd8"/>
<circle cx="174.7" cy="69.3" r="2.85" fill="#fff4b6"/>
<circle cx="455.6" cy="82.9" r="2.85" fill="#fed36e"/>
<circle cx="383.5" cy="71.7" r="2.85" fill="#fff9c5"/>
<circle cx="232.9" cy="130.2" r="2.85" fill="#b84203"/>
<circle cx="132.0" cy="98.4" r="2.85" fill="#fea937"/>
<circle cx="288.4" cy="155.6" r="2.85" fill="#662506"/>
<circle cx="572.9" cy="56.5" r="2.85" fill="#fffee0"/>
<circle cx="361.3" cy="95.2" r="2.85" fill="#fd9728"/>
<circle cx="506.5" cy="69.3" r="2.85" fill="#fff9c4"/>
<circle cx="300.2" cy="156.5" r="2.85" fill="#662506"/>
<circle cx="301.3" cy="58.7" r="2.85" fill="#ffffe3"/>
<circle cx="261.0" cy="101.4" r="2.85" fill="#fea736"/>
<circle cx="239.7" cy="101.5" r="2.85" fill="#fea735"/>
<circle cx="59.3" cy="77.5" r="2.85" fill="#fedd85"/>
<circle cx="361.7" cy="80.3" r="2.85" fill="#feeda6"/>
<circle cx="417.7" cy="54.9" r="2.85" fill="#fffdd9"/>
<circle cx="507.7" cy="54.4" r="2.85" fill="#fffcd6"/>
<circle cx="347.8" cy="55.8" r="2.85" fill="#fffddd"/>
<circle cx="285.4" cy="101.4" r="2.85" fill="#feae3c"/>
<circle cx="244.9" cy="76.6" r="2.85" fill="#fee698"/>
<circle cx="359.5" cy="61.7" r="2.85" fill="#fffddd"/>
<circle cx="403.8" cy="86.4" r="2.85" fill="#fed370"/>
<circle cx="219.3" cy="102.9" r="2.85" fill="#f78a21"/>
<circle cx="615.9" cy="53.8" r="2.85" fill="#ffffe5"/>
<circle cx="333.4" cy="81.0" r="2.85" fill="#fedd84"/>
<circle cx="465.9" cy="57.6" r="2.85" fill="#fffede"/>
<circle cx="443.2" cy="61.7" r="2.85" fill="#fffee2"/>
<circle cx="557.3" cy="53.5" r="2.85" fill="#ffffe5"/>
<circle cx="247.0" cy="82.1" r="2.85" fill="#fed470"/>
<circle cx="261.4" cy="55.8" r="2.85" fill="#fffddc"/>
<circle cx="213.8" cy="128.9" r="2.85" fill="#9c3604"/>
<circle cx="338.4" cy="74.0" r="2.85" fill="#fee89d"/>
<circle cx="236.5" cy="59.5" r="2.85" fill="#fffcd3"/>
<circle cx="229.3" cy="133.8" r="2.85" fill="#8f3104"/>
<circle cx="448.8" cy="60.5" r="2.85" fill="#ffffe3"/>
<circle cx="351.1" cy="97.9" r="2.85" fill="#feaf3d"/>
<circle cx="412.6" cy="59.8" r="2.85" fill="#fffdd8"/>
<circle cx="216.5" cy="67.5" r="2.85" fill="#fff4b6"/>
<circle cx="192.0" cy="118.4" r="2.85" fill="#db5d0b"/>
<circle cx="445.2" cy="56.0" r="2.85" fill="#fffcd7"/>
<circle cx="351.7" cy="100.5" r="2.85" fill="#fea836"/>
<circle cx="272.0" cy="103.8" r="2.85" fill="#fa9024"/>
<circle cx="486.4" cy="55.7" r="2.85" fill="#fffdda"/>
<circle cx="433.8" cy="67.5" r="2.85" fill="#fff1b0"/>
<circle cx="130.2" cy="83.8" r="2.85" fill="#fece65"/>
<circle cx="422.8" cy="53.4" r="2.85" fill="#fffbd0"/>
<circle cx="560.0" cy="54.1" r="2.85" fill="#ffffe5"/>
<circle cx="127.5" cy="99.6" r="2.85" fill="#fe9b2b"/>
<circle cx="140.2" cy="73.8" r="2.85" fill="#fee492"/>
<circle cx="284.7" cy="128.4" r="2.85" fill="#b24003"/>
<circle cx="332.2" cy="63.9" r="2.85" fill="#ffeda8"/>
<circle cx="288.1" cy="71.7" r="2.85" fill="#fff5b8"/>
<circle cx="237.5" cy="89.6" r="2.85" fill="#fed676"/>
<circle cx="340.0" cy="81.0" r="2.85" fill="#feda7f"/>
<circle cx="336.5" cy="129.3" r="2.85" fill="#cd4d03"/>
<circle cx="436.7" cy="55.7" r="2.85" fill="#fffcd7"/>
<circle cx="465.2" cy="66.1" r="2.85" fill="#fff9c8"/>
<circle cx="276.7" cy="101.3" r="2.85" fill="#feac3a"/>
<circle cx="598.1" cy="55.4" r="2.85" fill="#fffddb"/>
<circle cx="322.6" cy="58.8" r="2.85" fill="#fffbcf"/>
<circle cx="445.6" cy="85.6" r="2.85" fill="#fece65"/>
<circle cx="285.6" cy="162.0" r="2.85" fill="#662506"/>
<circle cx="300.7" cy="90.5" r="2.85" fill="#fed36e"/>
<circle cx="202.9" cy="83.8" r="2.85" fill="#fed36e"/>
<circle cx="428.0" cy="74.7" r="2.85" fill="#fff1ae"/>
<circle cx="269.8" cy="92.5" r="2.85" fill="#feb441"/>
<circle cx="356.1" cy="96.9" r="2.85" fill="#feb945"/>
<circle cx="288.2" cy="74.7" r="2.85" fill="#fed26e"/>
<circle cx="498.6" cy="61.3" r="2.85" fill="#fffddb"/>
<circle cx="197.5" cy="58.6" r="2.85" fill="#fffdd9"/>
<circle cx="161.1" cy="105.6" r="2.85" fill="#f5841e"/>
<circle cx="341.2" cy="56.1" r="2.85" fill="#fffbcf"/>
<circle cx="327.5" cy="57.9" r="2.85" fill="#ffffe5"/>
<circle cx="293.9" cy="68.0" r="2.85" fill="#fff4b6"/>
<circle cx="364.2" cy="84.4" r="2.85" fill="#fed16a"/>
<circle cx="325.6" cy="134.7" r="2.85" fill="#8f3104"/>
<circle cx="171.1" cy="115.6" r="2.85" fill="#e4670f"/>
<circle cx="292.8" cy="62.6" r="2.85" fill="#fffddd"/>
<circle cx="533.7" cy="61.9" r="2.85" fill="#ffffe4"/>
<circle cx="247.7" cy="63.4" r="2.85" fill="#fffdd9"/>
<circle cx="264.0" cy="65.9" r="2.85" fill="#fff7bc"/>
<circle cx="362.0" cy="89.1" r="2.85" fill="#fee392"/>
<circle cx="219.3" cy="120.2" r="2.85" fill="#d35406"/>
<circle cx="497.5" cy="69.3" r="2.85" fill="#fff8bf"/>
<circle cx="296.5" cy="184.4" r="2.85" fill="#662506"/>
<circle cx="314.7" cy="109.3" r="2.85" fill="#f27f1c"/>
<circle cx="202.9" cy="119.3" r="2.85" fill="#d65707"/>
<circle cx="245.0" cy="101.3" r="2.85" fill="#fea533"/>
<circle cx="269.7" cy="95.2" r="2.85" fill="#fea231"/>
<circle cx="50.2" cy="89.3" r="2.85" fill="#fed36e"/>
<circle cx="232.1" cy="101.0" r="2.85" fill="#feb340"/>
<circle cx="332.7" cy="68.1" r="2.85" fill="#fff8c2"/>
<circle cx="282.0" cy="116.5" r="2.85" fill="#e96d13"/>
<circle cx="452.0" cy="72.0" r="2.85" fill="#feeaa1"/>
<circle cx="304.7" cy="110.2" r="2.85" fill="#f27f1c"/>
<circle cx="461.6" cy="57.6" r="2.85" fill="#fffedf"/>
<circle cx="389.0" cy="73.2" r="2.85" fill="#feeca3"/>
<circle cx="253.0" cy="63.4" r="2.85" fill="#fffee2"/>
<circle cx="314.7" cy="95.0" r="2.85" fill="#fe9e2d"/>
<circle cx="576.5" cy="61.5" r="2.85" fill="#fffedf"/>
<circle cx="176.5" cy="65.1" r="2.85" fill="#fff8bf"/>
<circle cx="341.8" cy="97.6" r="2.85" fill="#feb642"/>
<circle cx="302.0" cy="116.5" r="2.85" fill="#e96d13"/>
<circle cx="278.4" cy="160.2" r="2.85" fill="#662506"/>
<circle cx="386.9" cy="58.9" r="2.85" fill="#fffdd9"/>
<circle cx="295.1" cy="53.5" r="2.85" fill="#fffede"/>
<circle cx="311.2" cy="73.6" r="2.85" fill="#fee391"/>
<circle cx="390.8" cy="88.8" r="2.85" fill="#fee698"/>
<circle cx="434.7" cy="96.5" r="2.85" fill="#feb743"/>
<circle cx="288.4" cy="138.4" r="2.85" fill="#8f3104"/>
<circle cx="330.4" cy="54.4" r="2.85" fill="#fffcd6"/>
<circle cx="68.4" cy="88.4" r="2.85" fill="#fece65"/>
<circle cx="343.7" cy="67.6" r="2.85" fill="#fff8c1"/>
<circle cx="414.5" cy="57.5" r="2.85" fill="#fffcd8"/>
<circle cx="404.7" cy="57.0" r="2.85" fill="#fffcd7"/>
<circle cx="256.5" cy="81.4" r="2.85" fill="#feda7f"/>
<circle cx="266.3" cy="85.3" r="2.85" fill="#fed879"/>
<circle cx="212.0" cy="112.0" r="2.85" fill="#e4670f"/>
<circle cx="168.4" cy="101.1" r="2.85" fill="#fc9627"/>
<circle cx="312.5" cy="234.2" r="2.85" fill="#662506"/>
<circle cx="192.0" cy="97.1" r="2.85" fill="#fea937"/>
<circle cx="509.6" cy="53.9" r="2.85" fill="#fffedd"/>
<circle cx="262.5" cy="55.7" r="2.85" fill="#fffddd"/>
<circle cx="363.4" cy="71.6" r="2.85" fill="#fff2b2"/>
<circle cx="254.6" cy="98.2" r="2.85" fill="#fea937"/>
<circle cx="306.8" cy="97.8" r="2.85" fill="#febb47"/>
<circle cx="279.2" cy="79.0" r="2.85" fill="#fee28e"/>
<circle cx="416.8" cy="55.1" r="2.85" fill="#fffbd3"/>
<circle cx="452.0" cy="101.1" r="2.85" fill="#fea937"/>
<circle cx="564.0" cy="63.0" r="2.85" fill="#fffddd"/>
<circle cx="326.7" cy="63.7" r="2.85" fill="#fffcd6"/>
<circle cx="327.6" cy="80.6" r="2.85" fill="#fee28e"/>
<circle cx="245.7" cy="62.8" r="2.85" fill="#fffcd7"/>
<circle cx="300.3" cy="76.5" r="2.85" fill="#fee595"/>
<circle cx="423.7" cy="61.1" r="2.85" fill="#fffdd9"/>
<circle cx="110.2" cy="66.9" r="2.85" fill="#fff9c7"/>
<circle cx="187.5" cy="56.0" r="2.85" fill="#fffdd9"/>
<circle cx="411.9" cy="59.3" r="2.85" fill="#ffffe4"/>
<circle cx="289.9" cy="84.8" r="2.85" fill="#fec34e"/>
<circle cx="190.2" cy="112.9" r="2.85" fill="#e4670f"/>
<circle cx="217.5" cy="74.7" r="2.85" fill="#ffeda7"/>
<circle cx="516.6" cy="62.3" r="2.85" fill="#fffdda"/>
<circle cx="426.5" cy="66.3" r="2.85" fill="#fff6bb"/>
<circle cx="334.5" cy="54.2" r="2.85" fill="#fffcd6"/>
<circle cx="422.9" cy="107.8" r="2.85" fill="#fc9627"/>
<circle cx="377.6" cy="69.9" r="2.85" fill="#fff8c1"/>
<circle cx="78.4" cy="77.1" r="2.85" fill="#fee492"/>
<circle cx="286.3" cy="58.4" r="2.85" fill="#fffddc"/>
<circle cx="192.0" cy="56.5" r="2.85" fill="#fffdd9"/>
<circle cx="201.1" cy="89.3" r="2.85" fill="#fec654"/>
<circle cx="344.8" cy="66.8" r="2.85" fill="#fee698"/>
<circle cx="537.6" cy="58.9" r="2.85" fill="#ffffe5"/>
<circle cx="328.4" cy="149.3" r="2.85" fill="#692606"/>
<circle cx="248.6" cy="91.5" r="2.85" fill="#fecc5f"/>
<circle cx="192.0" cy="61.1" r="2.85" fill="#fffbd3"/>
<circle cx="195.6" cy="55.6" r="2.85" fill="#fffdd9"/>
<circle cx="406.4" cy="70.3" r="2.85" fill="#fff3b4"/>
<circle cx="457.5" cy="91.1" r="2.85" fill="#fec654"/>
<circle cx="255.2" cy="95.9" r="2.85" fill="#feab39"/>
<circle cx="237.6" cy="86.2" r="2.85" fill="#fed069"/>
<circle cx="335.6" cy="103.8" r="2.85" fill="#fc9627"/>
<circle cx="320.1" cy="78.8" r="2.85" fill="#fedb81"/>
<circle cx="297.8" cy="81.1" r="2.85" fill="#fedc82"/>
<circle cx="359.2" cy="70.7" r="2.85" fill="#feeca3"/>
<circle cx="243.5" cy="93.6" r="2.85" fill="#fe9f2e"/>
<circle cx="377.8" cy="77.3" r="2.85" fill="#feeaa0"/>
<circle cx="542.2" cy="57.5" r="2.85" fill="#fffcd7"/>
<circle cx="248.0" cy="57.3" r="2.85" fill="#fffddd"/>
<circle cx="372.3" cy="86.7" r="2.85" fill="#fed676"/>
<circle cx="317.5" cy="120.2" r="2.85" fill="#e1640e"/>
<circle cx="271.5" cy="100.8" r="2.85" fill="#feb340"/>
<circle cx="376.3" cy="95.2" r="2.85" fill="#feae3c"/>
<circle cx="261.8" cy="101.8" r="2.85" fill="#febd49"/>
<circle cx="470.5" cy="59.7" r="2.85" fill="#fffcd6"/>
<circle cx="309.6" cy="70.7" r="2.85" fill="#fff9c5"/>
<circle cx="360.9" cy="94.9" r="2.85" fill="#feb945"/>
<circle cx="527.3" cy="58.0" r="2.85" fill="#fffee0"/>
<circle cx="288.2" cy="82.6" r="2.85" fill="#fec654"/>
<circle cx="464.4" cy="57.8" r="2.85" fill="#fffddc"/>
<circle cx="320.9" cy="75.9" r="2.85" fill="#feeaa0"/>
<circle cx="73.8" cy="86.5" r="2.85" fill="#fed36e"/>
<circle cx="290.8" cy="58.2" r="2.85" fill="#fffcd4"/>
<circle cx="290.3" cy="61.9" r="2.85" fill="#fffcd4"/>
<circle cx="285.7" cy="62.1" r="2.85" fill="#fffee0"/>
<circle cx="597.7" cy="61.8" r="2.85" fill="#ffffe4"/>
<circle cx="330.2" cy="135.6" r="2.85" fill="#8f3104"/>
<circle cx="269.8" cy="92.4" r="2.85" fill="#feac3a"/>
<circle cx="242.5" cy="84.6" r="2.85" fill="#fed069"/>
<circle cx="212.0" cy="70.2" r="2.85" fill="#fff1b0"/>
<circle cx="177.5" cy="103.5" r="2.85" fill="#f78a21"/>
<circle cx="194.7" cy="119.3" r="2.85" fill="#db5d0b"/>
<circle cx="177.5" cy="75.6" r="2.85" fill="#fee595"/>
<circle cx="287.0" cy="68.0" r="2.85" fill="#fff0ad"/>
<circle cx="335.9" cy="74.7" r="2.85" fill="#fee698"/>
<circle cx="234.8" cy="82.7" r="2.85" fill="#fedc81"/>
<circle cx="296.1" cy="95.5" r="2.85" fill="#feb642"/>
<circle cx="419.4" cy="101.5" r="2.85" fill="#fecb5d"/>
<circle cx="299.3" cy="143.8" r="2.85" fill="#742905"/>
<circle cx="341.2" cy="66.7" r="2.85" fill="#fffac9"/>
<circle cx="544.6" cy="59.7" r="2.85" fill="#fffdda"/>
<circle cx="292.0" cy="156.5" r="2.85" fill="#662506"/>
<circle cx="345.3" cy="100.2" r="2.85" fill="#feaf3c"/>
<circle cx="481.1" cy="85.1" r="2.85" fill="#fed97c"/>
<circle cx="323.3" cy="216.5" r="2.85" fill="#662506"/>
<circle cx="299.3" cy="109.3" r="2.85" fill="#f27f1c"/>
<circle cx="459.3" cy="66.5" r="2.85" fill="#fff1b0"/>
<circle cx="552.0" cy="84.7" r="2.85" fill="#feeaa1"/>
<circle cx="341.1" cy="60.4" r="2.85" fill="#fffbd2"/>
<circle cx="353.1" cy="100.4" r="2.85" fill="#feb340"/>
<circle cx="233.4" cy="58.7" r="2.85" fill="#fffcd6"/>
<circle cx="195.6" cy="103.5" r="2.85" fill="#f78a21"/>
<circle cx="322.9" cy="145.6" r="2.85" fill="#712806"/>
<circle cx="298.3" cy="61.9" r="2.85" fill="#fffcd5"/>
<circle cx="348.7" cy="74.1" r="2.85" fill="#ffeea8"/>
<circle cx="286.5" cy="150.2" r="2.85" fill="#692606"/>
<circle cx="382.3" cy="56.9" r="2.85" fill="#fffcd7"/>
<circle cx="391.4" cy="68.8" r="2.85" fill="#fff5b7"/>
<circle cx="596.5" cy="58.9" r="2.85" fill="#fffddd"/>
<circle cx="310.0" cy="83.9" r="2.85" fill="#fec857"/>
<circle cx="172.9" cy="102.9" r="2.85" fill="#f78a21"/>
<circle cx="380.2" cy="112.0" r="2.85" fill="#f4821d"/>
<circle cx="186.5" cy="63.8" r="2.85" fill="#fffbd3"/>
<circle cx="208.4" cy="123.8" r="2.85" fill="#b84203"/>
<circle cx="433.8" cy="82.9" r="2.85" fill="#fed97c"/>
<circle cx="352.2" cy="75.4" r="2.85" fill="#fee99e"/>
<circle cx="417.1" cy="67.2" r="2.85" fill="#fff8c2"/>
<circle cx="562.8" cy="53.4" r="2.85" fill="#ffffe3"/>
<circle cx="210.2" cy="114.7" r="2.85" fill="#e1640e"/>
<circle cx="294.8" cy="73.9" r="2.85" fill="#ffefaa"/>
<circle cx="68.0" cy="64.4" r="2.85" fill="#fffbd3"/>
<circle cx="392.0" cy="138.0" r="2.85" fill="#ca4b02"/>
<circle cx="340.8" cy="101.5" r="2.85" fill="#feb541"/>
<circle cx="586.9" cy="64.2" r="2.85" fill="#fffee2"/>
<circle cx="350.9" cy="81.4" r="2.85" fill="#fee89c"/>
<circle cx="308.1" cy="70.7" r="2.85" fill="#fff9c6"/>
<circle cx="102.0" cy="96.5" r="2.85" fill="#fea937"/>
<circle cx="84.7" cy="90.2" r="2.85" fill="#fec24d"/>
<circle cx="360.2" cy="57.3" r="2.85" fill="#fffee2"/>
<circle cx="281.1" cy="84.1" r="2.85" fill="#feda7f"/>
<circle cx="379.4" cy="98.9" r="2.85" fill="#fe9d2d"/>
<circle cx="288.0" cy="59.6" r="2.85" fill="#fffcd7"/>
<circle cx="249.1" cy="84.0" r="2.85" fill="#fecd61"/>
<circle cx="277.5" cy="129.3" r="2.85" fill="#b24003"/>
<circle cx="357.3" cy="85.5" r="2.85" fill="#fed573"/>
<circle cx="451.3" cy="57.6" r="2.85" fill="#fffdda"/>
<circle cx="307.2" cy="100.4" r="2.85" fill="#feb441"/>
<circle cx="242.6" cy="100.2" r="2.85" fill="#febf4a"/>
<circle cx="611.9" cy="56.5" r="2.85" fill="#fffee1"/>
<circle cx="340.0" cy="57.0" r="2.85" fill="#fffdda"/>
<circle cx="304.1" cy="80.1" r="2.85" fill="#fed777"/>
<circle cx="164.7" cy="66.5" r="2.85" fill="#fff8bf"/>
<circle cx="386.0" cy="60.1" r="2.85" fill="#fffdda"/>
<circle cx="348.9" cy="75.0" r="2.85" fill="#fff1af"/>
<circle cx="250.1" cy="101.0" r="2.85" fill="#fea635"/>
<circle cx="232.9" cy="102.9" r="2.85" fill="#fb9326"/>
<circle cx="355.8" cy="84.9" r="2.85" fill="#fedd85"/>
<circle cx="304.7" cy="61.7" r="2.85" fill="#fffcd8"/>
<circle cx="528.9" cy="59.5" r="2.85" fill="#fffcd8"/>
<circle cx="412.6" cy="61.7" r="2.85" fill="#fffee0"/>
<circle cx="236.9" cy="93.3" r="2.85" fill="#fec653"/>
<circle cx="375.3" cy="57.1" r="2.85" fill="#fffddc"/>
<circle cx="171.1" cy="72.0" r="2.85" fill="#fff1b0"/>
<circle cx="406.2" cy="79.8" r="2.85" fill="#fee18d"/>
<circle cx="358.0" cy="63.2" r="2.85" fill="#fff3b3"/>
<circle cx="378.8" cy="74.7" r="2.85" fill="#ffeea8"/>
<circle cx="302.9" cy="187.5" r="2.85" fill="#662506"/>
<circle cx="201.1" cy="76.5" r="2.85" fill="#fee08a"/>
<circle cx="385.7" cy="77.7" r="2.85" fill="#fee99e"/>
<circle cx="222.9" cy="95.6" r="2.85" fill="#fea937"/>
<circle cx="428.3" cy="55.6" r="2.85" fill="#fffede"/>
<circle cx="332.9" cy="81.3" r="2.85" fill="#feeda6"/>
<circle cx="546.4" cy="53.9" r="2.85" fill="#fffee2"/>
<circle cx="268.5" cy="93.8" r="2.85" fill="#febc48"/>
<circle cx="394.7" cy="102.0" r="2.85" fill="#fea130"/>
<circle cx="284.4" cy="87.0" r="2.85" fill="#fecd62"/>
<circle cx="308.8" cy="63.3" r="2.85" fill="#fffee1"/>
<circle cx="237.5" cy="96.0" r="2.85" fill="#feb23f"/>
<circle cx="433.5" cy="59.1" r="2.85" fill="#fffdd9"/>
<circle cx="341.1" cy="128.9" r="2.85" fill="#cd4d03"/>
<circle cx="358.4" cy="67.7" r="2.85" fill="#fffacd"/>
<circle cx="405.5" cy="57.8" r="2.85" fill="#fffcd6"/>
<circle cx="263.8" cy="137.5" r="2.85" fill="#9c3604"/>
<circle cx="331.7" cy="62.2" r="2.85" fill="#fffcd8"/>
<circle cx="336.5" cy="119.3" r="2.85" fill="#e76a11"/>
<circle cx="353.6" cy="54.1" r="2.85" fill="#fffcd5"/>
<circle cx="289.2" cy="72.5" r="2.85" fill="#feeda6"/>
<circle cx="545.8" cy="53.6" r="2.85" fill="#ffffe5"/>
<circle cx="325.7" cy="76.1" r="2.85" fill="#feeca5"/>
<circle cx="93.8" cy="85.6" r="2.85" fill="#fece65"/>
<circle cx="379.2" cy="53.5" r="2.85" fill="#fffddd"/>
<circle cx="290.2" cy="109.3" r="2.85" fill="#f27f1c"/>
<circle cx="257.6" cy="98.2" r="2.85" fill="#fea534"/>
<circle cx="182.0" cy="55.6" r="2.85" fill="#fffdd9"/>
<circle cx="379.1" cy="55.4" r="2.85" fill="#fffdda"/>
<circle cx="335.5" cy="76.5" r="2.85" fill="#fff2b1"/>
<circle cx="311.1" cy="117.5" r="2.85" fill="#e76a11"/>
<circle cx="97.1" cy="68.7" r="2.85" fill="#fff8bf"/>
<circle cx="269.3" cy="101.6" r="2.85" fill="#fea332"/>
<circle cx="204.7" cy="75.6" r="2.85" fill="#fee08a"/>
<circle cx="234.0" cy="58.1" r="2.85" fill="#fffcd5"/>
<circle cx="132.9" cy="118.4" r="2.85" fill="#db5d0b"/>
<circle cx="87.5" cy="65.1" r="2.85" fill="#fffacd"/>
<circle cx="445.6" cy="79.3" r="2.85" fill="#fee08a"/>
<circle cx="316.7" cy="66.6" r="2.85" fill="#fffacd"/>
<circle cx="310.8" cy="90.8" r="2.85" fill="#fed97c"/>
<circle cx="310.9" cy="61.0" r="2.85" fill="#fffddd"/>
<circle cx="279.4" cy="82.3" r="2.85" fill="#fede86"/>
<circle cx="163.8" cy="118.4" r="2.85" fill="#e1640e"/>
<circle cx="462.4" cy="63.2" r="2.85" fill="#fff4b6"/>
<circle cx="313.2" cy="101.0" r="2.85" fill="#fea735"/>
<circle cx="332.9" cy="137.5" r="2.85" fill="#aa3c03"/>
<circle cx="302.0" cy="146.5" r="2.85" fill="#712806"/>
<circle cx="363.5" cy="61.5" r="2.85" fill="#fffcd4"/>
<circle cx="561.7" cy="54.5" r="2.85" fill="#fffddd"/>
<circle cx="488.7" cy="59.4" r="2.85" fill="#fffddc"/>
<circle cx="589.7" cy="56.2" r="2.85" fill="#ffffe4"/>
<circle cx="488.4" cy="68.4" r="2.85" fill="#fff9c4"/>
<circle cx="456.5" cy="70.2" r="2.85" fill="#ffeda7"/>
<circle cx="365.7" cy="56.1" r="2.85" fill="#fffcd6"/>
<circle cx="184.7" cy="122.9" r="2.85" fill="#c14702"/>
<circle cx="334.6" cy="75.2" r="2.85" fill="#ffeea9"/>
<circle cx="486.9" cy="65.5" r="2.85" fill="#fffddc"/>
<circle cx="398.0" cy="57.2" r="2.85" fill="#fffee1"/>
<circle cx="402.3" cy="70.7" r="2.85" fill="#fffaca"/>
<circle cx="285.2" cy="54.9" r="2.85" fill="#fffcd4"/>
<circle cx="395.3" cy="72.7" r="2.85" fill="#ffefab"/>
<circle cx="228.4" cy="81.1" r="2.85" fill="#fed97c"/>
<circle cx="476.0" cy="55.2" r="2.85" fill="#fffddd"/>
<circle cx="288.6" cy="71.7" r="2.85" fill="#ffeda7"/>
<circle cx="170.2" cy="59.3" r="2.85" fill="#fffbd3"/>
<circle cx="242.5" cy="61.4" r="2.85" fill="#fffddc"/>
<circle cx="361.6" cy="73.0" r="2.85" fill="#feeba3"/>
<circle cx="255.6" cy="103.8" r="2.85" fill="#fa9024"/>
<circle cx="279.3" cy="102.9" r="2.85" fill="#fb9326"/>
<circle cx="582.8" cy="55.5" r="2.85" fill="#fffee1"/>
<circle cx="282.9" cy="125.6" r="2.85" fill="#b84203"/>
<circle cx="350.1" cy="94.9" r="2.85" fill="#feab39"/>
<circle cx="374.9" cy="213.3" r="2.85" fill="#662506"/>
<circle cx="330.6" cy="83.1" r="2.85" fill="#fec550"/>
<circle cx="321.1" cy="109.3" r="2.85" fill="#f27f1c"/>
<circle cx="481.1" cy="109.6" r="2.85" fill="#fe9b2b"/>
<circle cx="212.9" cy="125.6" r="2.85" fill="#b24003"/>
<circle cx="537.1" cy="57.7" r="2.85" fill="#ffffe3"/>
<circle cx="223.5" cy="54.1" r="2.85" fill="#fffddb"/>
<circle cx="379.6" cy="167.5" r="2.85" fill="#662506"/>
<circle cx="203.8" cy="54.7" r="2.85" fill="#fffdd9"/>
<circle cx="362.2" cy="55.6" r="2.85" fill="#fffcd7"/>
<circle cx="325.1" cy="53.5" r="2.85" fill="#fffee0"/>
<circle cx="286.9" cy="89.5" r="2.85" fill="#fed471"/>
<circle cx="368.4" cy="113.8" r="2.85" fill="#f27f1c"/>
<circle cx="361.5" cy="79.7" r="2.85" fill="#feeba3"/>
<circle cx="365.0" cy="66.3" r="2.85" fill="#fffaca"/>
<circle cx="231.1" cy="56.5" r="2.85" fill="#fffdd9"/>
<circle cx="272.9" cy="134.7" r="2.85" fill="#9c3604"/>
<circle cx="473.3" cy="59.7" r="2.85" fill="#fffedf"/>
<circle cx="342.6" cy="67.5" r="2.85" fill="#fff2b1"/>
<circle cx="371.3" cy="73.4" r="2.85" fill="#feeda5"/>
<circle cx="377.3" cy="77.8" r="2.85" fill="#feeaa0"/>
<circle cx="311.0" cy="57.9" r="2.85" fill="#fffee0"/>
<circle cx="454.7" cy="58.9" r="2.85" fill="#fffdd9"/>
<circle cx="114.7" cy="79.3" r="2.85" fill="#fed97c"/>
<circle cx="446.2" cy="58.8" r="2.85" fill="#fffee2"/>
<circle cx="226.5" cy="74.7" r="2.85" fill="#feeaa1"/>
<circle cx="336.2" cy="76.9" r="2.85" fill="#ffeda7"/>
<circle cx="239.3" cy="102.9" r="2.85" fill="#fb9326"/>
<circle cx="361.5" cy="62.4" r="2.85" fill="#fff4b5"/>
<circle cx="515.9" cy="58.8" r="2.85" fill="#fffee0"/>
<circle cx="369.8" cy="77.3" r="2.85" fill="#feeca5"/>
<circle cx="277.5" cy="77.1" r="2.85" fill="#fee494"/>
<circle cx="375.3" cy="63.9" r="2.85" fill="#fff8c1"/>
<circle cx="115.6" cy="83.8" r="2.85" fill="#fece65"/>
<circle cx="332.9" cy="126.5" r="2.85" fill="#d35406"/>
<circle cx="222.9" cy="56.0" r="2.85" fill="#fffdd9"/>
<circle cx="320.8" cy="96.4" r="2.85" fill="#febc48"/>
<circle cx="278.4" cy="153.8" r="2.85" fill="#662506"/>
<circle cx="107.5" cy="82.0" r="2.85" fill="#fed36e"/>
<circle cx="343.7" cy="60.6" r="2.85" fill="#fffee2"/>
<circle cx="364.1" cy="91.9" r="2.85" fill="#fedd85"/>
<circle cx="401.4" cy="75.4" r="2.85" fill="#fee99d"/>
<circle cx="236.1" cy="99.0" r="2.85" fill="#feb340"/>
<circle cx="140.2" cy="102.9" r="2.85" fill="#f98d23"/>
<circle cx="312.5" cy="63.5" r="2.85" fill="#fffee0"/>
<circle cx="481.4" cy="58.1" r="2.85" fill="#ffffe4"/>
<circle cx="330.3" cy="85.7" r="2.85" fill="#fed572"/>
<circle cx="141.1" cy="100.2" r="2.85" fill="#fc9627"/>
<circle cx="488.5" cy="57.1" r="2.85" fill="#fffddb"/>
<circle cx="204.7" cy="71.1" r="2.85" fill="#ffefaa"/>
<circle cx="261.1" cy="121.1" r="2.85" fill="#e1640e"/>
<circle cx="550.3" cy="61.7" r="2.85" fill="#fffdda"/>
<circle cx="393.0" cy="89.4" r="2.85" fill="#fed87a"/>
<circle cx="332.8" cy="56.9" r="2.85" fill="#fffddc"/>
<circle cx="250.2" cy="117.5" r="2.85" fill="#e96d13"/>
<circle cx="317.6" cy="63.1" r="2.85" fill="#fffdda"/>
<circle cx="559.8" cy="59.8" r="2.85" fill="#ffffe3"/>
<circle cx="226.5" cy="75.6" r="2.85" fill="#fedb80"/>
<circle cx="391.7" cy="53.6" r="2.85" fill="#fffdd9"/>
<circle cx="312.9" cy="160.2" r="2.85" fill="#662506"/>
<circle cx="315.6" cy="137.5" r="2.85" fill="#8f3104"/>
<circle cx="308.6" cy="74.8" r="2.85" fill="#fee392"/>
<circle cx="239.0" cy="57.7" r="2.85" fill="#ffffe4"/>
<circle cx="137.5" cy="88.4" r="2.85" fill="#fec24d"/>
<circle cx="322.7" cy="69.4" r="2.85" fill="#fff7bc"/>
<circle cx="397.7" cy="55.5" r="2.85" fill="#fffee0"/>
<circle cx="305.2" cy="79.1" r="2.85" fill="#fee08b"/>
<circle cx="237.3" cy="91.7" r="2.85" fill="#feca5c"/>
<circle cx="583.1" cy="56.2" r="2.85" fill="#ffffe3"/>
<circle cx="506.8" cy="61.3" r="2.85" fill="#fffee2"/>
<circle cx="359.2" cy="87.5" r="2.85" fill="#fed36e"/>
<circle cx="230.2" cy="65.6" r="2.85" fill="#fff4b6"/>
<circle cx="337.5" cy="81.3" r="2.85" fill="#fee08b"/>
<circle cx="241.1" cy="118.4" r="2.85" fill="#e96d13"/>
<circle cx="294.5" cy="59.0" r="2.85" fill="#fffcd6"/>
<circle cx="196.5" cy="62.0" r="2.85" fill="#fffbd3"/>
<circle cx="494.8" cy="62.4" r="2.85" fill="#fffee0"/>
<circle cx="342.9" cy="60.0" r="2.85" fill="#fffddb"/>
<circle cx="427.8" cy="56.4" r="2.85" fill="#fffddc"/>
<circle cx="322.9" cy="103.8" r="2.85" fill="#fa9024"/>
<circle cx="251.1" cy="59.4" r="2.85" fill="#fffdda"/>
<circle cx="62.0" cy="86.5" r="2.85" fill="#fed36e"/>
<circle cx="303.0" cy="84.9" r="2.85" fill="#fed472"/>
<circle cx="426.3" cy="87.9" r="2.85" fill="#fee89c"/>
<circle cx="451.7" cy="60.1" r="2.85" fill="#fffee0"/>
<circle cx="486.2" cy="65.8" r="2.85" fill="#ffffe5"/>
<circle cx="233.8" cy="69.9" r="2.85" fill="#fff6ba"/>
<circle cx="287.6" cy="97.8" r="2.85" fill="#feb542"/>
<circle cx="582.8" cy="57.2" r="2.85" fill="#fffdda"/>
<circle cx="321.1" cy="139.3" r="2.85" fill="#812d05"/>
<circle cx="454.4" cy="63.2" r="2.85" fill="#feeda6"/>
<circle cx="543.2" cy="53.4" r="2.85" fill="#ffffe5"/>
<circle cx="597.8" cy="56.5" r="2.85" fill="#fffedf"/>
<circle cx="222.9" cy="77.5" r="2.85" fill="#fedb80"/>
<circle cx="441.1" cy="71.1" r="2.85" fill="#ffeda7"/>
<circle cx="318.4" cy="77.5" r="2.85" fill="#feda7d"/>
<circle cx="270.6" cy="53.6" r="2.85" fill="#ffffe5"/>
<circle cx="193.8" cy="112.0" r="2.85" fill="#e4670f"/>
<circle cx="82.0" cy="66.9" r="2.85" fill="#fff4b6"/>
<circle cx="461.7" cy="58.8" r="2.85" fill="#ffffe4"/>
<circle cx="97.5" cy="96.5" r="2.85" fill="#fe9b2b"/>
<circle cx="455.8" cy="55.6" r="2.85" fill="#ffffe5"/>
<circle cx="498.4" cy="56.7" r="2.85" fill="#fffddc"/>
<circle cx="532.6" cy="60.9" r="2.85" fill="#ffffe5"/>
<circle cx="319.3" cy="67.1" r="2.85" fill="#fffbd0"/>
<circle cx="283.0" cy="64.2" r="2.85" fill="#fff6b9"/>
<circle cx="360.1" cy="83.3" r="2.85" fill="#fedb81"/>
<circle cx="361.6" cy="57.6" r="2.85" fill="#fffee1"/>
<circle cx="261.1" cy="104.7" r="2.85" fill="#f98d23"/>
<circle cx="316.8" cy="58.7" r="2.85" fill="#fffddb"/>
<circle cx="195.3" cy="54.2" r="2.85" fill="#fffdda"/>
<circle cx="181.1" cy="94.7" r="2.85" fill="#feb13e"/>
<circle cx="337.3" cy="58.7" r="2.85" fill="#fffacd"/>
<circle cx="550.2" cy="64.4" r="2.85" fill="#fffacd"/>
<circle cx="305.2" cy="83.8" r="2.85" fill="#fecc61"/>
<circle cx="155.6" cy="98.4" r="2.85" fill="#fea130"/>
<circle cx="517.4" cy="59.2" r="2.85" fill="#fffddc"/>
<circle cx="350.2" cy="219.8" r="2.85" fill="#662506"/>
<circle cx="379.2" cy="96.2" r="2.85" fill="#fec858"/>
<circle cx="364.6" cy="66.2" r="2.85" fill="#fff7bc"/>
<circle cx="474.7" cy="73.8" r="2.85" fill="#ffeda7"/>
<circle cx="221.1" cy="111.1" r="2.85" fill="#e76a11"/>
<circle cx="443.0" cy="61.1" r="2.85" fill="#fffddb"/>
<circle cx="500.8" cy="54.9" r="2.85" fill="#fffedf"/>
<circle cx="334.4" cy="81.3" r="2.85" fill="#fee595"/>
<circle cx="344.7" cy="104.7" r="2.85" fill="#fa9024"/>
<circle cx="282.1" cy="61.9" r="2.85" fill="#fffdda"/>
<circle cx="493.8" cy="112.5" r="2.85" fill="#f27f1c"/>
<circle cx="449.7" cy="61.6" r="2.85" fill="#fffddc"/>
<circle cx="557.8" cy="59.9" r="2.85" fill="#fffee1"/>
<circle cx="332.9" cy="110.2" r="2.85" fill="#f5841e"/>
<circle cx="288.2" cy="56.3" r="2.85" fill="#fffcd8"/>
<circle cx="198.8" cy="54.8" r="2.85" fill="#ffface"/>
<circle cx="612.0" cy="69.3" r="2.85" fill="#fff9c7"/>
<circle cx="301.1" cy="152.9" r="2.85" fill="#662506"/>
<circle cx="471.2" cy="55.0" r="2.85" fill="#fffcd8"/>
<circle cx="305.6" cy="82.2" r="2.85" fill="#fecf67"/>
<circle cx="357.0" cy="55.1" r="2.85" fill="#fffede"/>
<circle cx="260.5" cy="75.4" r="2.85" fill="#fee28e"/>
<circle cx="426.8" cy="77.9" r="2.85" fill="#fee89b"/>
<circle cx="162.9" cy="109.3" r="2.85" fill="#ef7818"/>
<circle cx="95.6" cy="91.1" r="2.85" fill="#fec24d"/>
<circle cx="288.9" cy="72.5" r="2.85" fill="#fedf88"/>
<circle cx="449.5" cy="67.9" r="2.85" fill="#fff7bd"/>
<circle cx="377.4" cy="62.8" r="2.85" fill="#fff5b7"/>
<circle cx="343.7" cy="63.4" r="2.85" fill="#fff4b6"/>
<circle cx="373.4" cy="65.7" r="2.85" fill="#fffbcf"/>
<circle cx="382.5" cy="73.4" r="2.85" fill="#fee698"/>
<circle cx="399.1" cy="71.1" r="2.85" fill="#fff9c4"/>
<circle cx="226.5" cy="62.0" r="2.85" fill="#fffbd2"/>
<circle cx="334.7" cy="112.9" r="2.85" fill="#f27f1c"/>
<circle cx="372.3" cy="79.1" r="2.85" fill="#fee799"/>
<circle cx="282.3" cy="98.4" r="2.85" fill="#feaa38"/>
<circle cx="439.3" cy="66.5" r="2.85" fill="#fff1b0"/>
<circle cx="308.7" cy="62.5" r="2.85" fill="#fffee0"/>
<circle cx="381.5" cy="66.8" r="2.85" fill="#fff9c8"/>
<circle cx="132.0" cy="91.1" r="2.85" fill="#fec24d"/>
<circle cx="245.4" cy="57.2" r="2.85" fill="#fffddd"/>
<circle cx="345.4" cy="55.2" r="2.85" fill="#fffbd0"/>
<circle cx="132.9" cy="65.6" r="2.85" fill="#fff1b0"/>
<circle cx="266.2" cy="59.4" r="2.85" fill="#fffcd4"/>
<circle cx="348.5" cy="69.9" r="2.85" fill="#fff7be"/>
<circle cx="310.2" cy="196.5" r="2.85" fill="#662506"/>
<circle cx="344.4" cy="101.6" r="2.85" fill="#feb945"/>
<circle cx="73.8" cy="95.6" r="2.85" fill="#feb743"/>
<circle cx="188.6" cy="58.1" r="2.85" fill="#fffddc"/>
<circle cx="96.5" cy="102.5" r="2.85" fill="#fc9627"/>
<circle cx="409.5" cy="54.5" r="2.85" fill="#fffddb"/>
<circle cx="210.2" cy="134.7" r="2.85" fill="#8f3104"/>
<circle cx="122.9" cy="85.6" r="2.85" fill="#feca5d"/>
<circle cx="603.7" cy="65.1" r="2.85" fill="#fffddc"/>
<circle cx="200.8" cy="55.9" r="2.85" fill="#fffdda"/>
<circle cx="297.2" cy="85.3" r="2.85" fill="#fede86"/>
<circle cx="245.6" cy="116.5" r="2.85" fill="#e96d13"/>
<circle cx="249.0" cy="57.9" r="2.85" fill="#fffede"/>
<circle cx="232.4" cy="97.5" r="2.85" fill="#febb47"/>
<circle cx="100.2" cy="84.7" r="2.85" fill="#fece65"/>
<circle cx="285.3" cy="94.3" r="2.85" fill="#feb03e"/>
<circle cx="333.8" cy="142.9" r="2.85" fill="#9c3604"/>
<circle cx="551.9" cy="60.2" r="2.85" fill="#fffee0"/>
<circle cx="152.0" cy="114.7" r="2.85" fill="#e96d13"/>
<circle cx="537.8" cy="57.5" r="2.85" fill="#fffddd"/>
<circle cx="254.1" cy="86.8" r="2.85" fill="#fed068"/>
<circle cx="304.7" cy="130.2" r="2.85" fill="#af3f03"/>
<circle cx="580.3" cy="55.9" r="2.85" fill="#fffedf"/>
<circle cx="348.2" cy="81.9" r="2.85" fill="#fee698"/>
<circle cx="448.9" cy="59.8" r="2.85" fill="#fffee2"/>
<circle cx="395.8" cy="70.0" r="2.85" fill="#fff7be"/>
<circle cx="257.1" cy="76.9" r="2.85" fill="#fee89c"/>
<circle cx="134.7" cy="141.1" r="2.85" fill="#812d05"/>
<circle cx="561.0" cy="54.5" r="2.85" fill="#ffffe5"/>
<circle cx="356.5" cy="72.2" r="2.85" fill="#ffeea8"/>
<circle cx="126.5" cy="85.6" r="2.85" fill="#feca5d"/>
<circle cx="70.2" cy="92.9" r="2.85" fill="#fec24d"/>
<circle cx="169.3" cy="145.3" r="2.85" fill="#712806"/>
<circle cx="363.7" cy="98.5" r="2.85" fill="#fecd63"/>
<circle cx="185.7" cy="59.2" r="2.85" fill="#fffddc"/>
<circle cx="328.6" cy="74.2" r="2.85" fill="#fee799"/>
<circle cx="488.8" cy="56.3" r="2.85" fill="#fffedf"/>
<circle cx="333.2" cy="65.0" r="2.85" fill="#fff8c0"/>
<circle cx="312.0" cy="138.4" r="2.85" fill="#8f3104"/>
<circle cx="251.6" cy="94.2" r="2.85" fill="#feb23f"/>
<circle cx="510.7" cy="57.4" r="2.85" fill="#ffffe5"/>
<circle cx="277.6" cy="86.3" r="2.85" fill="#fec551"/>
<circle cx="505.7" cy="62.5" r="2.85" fill="#fffede"/>
<circle cx="358.4" cy="100.9" r="2.85" fill="#fec44f"/>
<circle cx="494.9" cy="55.1" r="2.85" fill="#fffcd6"/>
<circle cx="383.3" cy="77.2" r="2.85" fill="#fff3b3"/>
<circle cx="295.9" cy="61.7" r="2.85" fill="#fffcd7"/>
<circle cx="169.3" cy="125.6" r="2.85" fill="#b84203"/>
<circle cx="174.7" cy="118.4" r="2.85" fill="#db5d0b"/>
<circle cx="284.4" cy="98.4" r="2.85" fill="#fea837"/>
<circle cx="595.0" cy="55.5" r="2.85" fill="#fffee2"/>
<circle cx="231.1" cy="131.1" r="2.85" fill="#9c3604"/>
<circle cx="255.6" cy="101.8" r="2.85" fill="#feaf3d"/>
<circle cx="300.6" cy="92.5" r="2.85" fill="#feab39"/>
<circle cx="264.7" cy="111.1" r="2.85" fill="#f27f1c"/>
<circle cx="429.6" cy="60.2" r="2.85" fill="#fffcd6"/>
<circle cx="189.0" cy="54.5" r="2.85" fill="#fffcd6"/>
</g>
<rect x="32.5" y="53.2" width="585.0" height="195.2" fill="none" stroke="#d3d3d3" stroke-width="1.5"/>
<g stroke="#444" stroke-width="1">
<line x1="541.3" y1="248.4" x2="541.3" y2="245.4"/>
<line x1="465.4" y1="248.4" x2="465.4" y2="245.4"/>
<line x1="389.4" y1="248.4" x2="389.4" y2="245.4"/>
<line x1="313.5" y1="248.4" x2="313.5" y2="245.4"/>
<line x1="237.5" y1="248.4" x2="237.5" y2="245.4"/>
<line x1="161.5" y1="248.4" x2="161.5" y2="245.4"/>
<line x1="85.6" y1="248.4" x2="85.6" y2="245.4"/>
<line x1="32.5" y1="88.2" x2="35.5" y2="88.2"/>
<line x1="32.5" y1="123.0" x2="35.5" y2="123.0"/>
<line x1="32.5" y1="157.9" x2="35.5" y2="157.9"/>
<line x1="32.5" y1="192.7" x2="35.5" y2="192.7"/>
<line x1="32.5" y1="227.6" x2="35.5" y2="227.6"/>
</g>
<g font-size="9.7" fill="#1a1a1a" style="stroke-width:0.3px">
<text x="617.3" y="258.8" text-anchor="middle" fill="#888" textLength="5.9" lengthAdjust="spacingAndGlyphs">0</text><text x="541.3" y="258.8" text-anchor="middle" fill="#222" textLength="17.6" lengthAdjust="spacingAndGlyphs">100</text><text x="465.4" y="258.8" text-anchor="middle" fill="#222" textLength="17.6" lengthAdjust="spacingAndGlyphs">200</text><text x="389.4" y="258.8" text-anchor="middle" fill="#222" textLength="17.6" lengthAdjust="spacingAndGlyphs">300</text><text x="313.5" y="258.8" text-anchor="middle" fill="#222" textLength="17.6" lengthAdjust="spacingAndGlyphs">400</text><text x="237.5" y="258.8" text-anchor="middle" fill="#222" textLength="17.6" lengthAdjust="spacingAndGlyphs">500</text><text x="161.5" y="258.8" text-anchor="middle" fill="#222" textLength="17.6" lengthAdjust="spacingAndGlyphs">600</text><text x="85.6" y="258.8" text-anchor="middle" fill="#222" textLength="17.6" lengthAdjust="spacingAndGlyphs">700</text>
<text x="29.3" y="56.9" text-anchor="end" textLength="14.2" lengthAdjust="spacingAndGlyphs">0.0</text><text x="29.3" y="91.8" text-anchor="end" textLength="14.2" lengthAdjust="spacingAndGlyphs">0.5</text><text x="29.3" y="126.6" text-anchor="end" textLength="14.2" lengthAdjust="spacingAndGlyphs">1.0</text><text x="29.3" y="161.5" text-anchor="end" textLength="14.2" lengthAdjust="spacingAndGlyphs">1.5</text><text x="29.3" y="196.3" text-anchor="end" textLength="14.2" lengthAdjust="spacingAndGlyphs">2.0</text><text x="29.3" y="231.2" text-anchor="end" textLength="14.2" lengthAdjust="spacingAndGlyphs">2.5</text>
</g>
<text x="263.6" y="273" font-size="11.2" fill="#222" textLength="123.3" lengthAdjust="spacingAndGlyphs">Distance to coast (km)</text>
<text transform="translate(9.2,205) rotate(-90)" font-size="11.2" fill="#222" textLength="104" lengthAdjust="spacingAndGlyphs">Drilled depth (km)</text>
<!-- colorbar -->
<rect x="632.1" y="53.6" width="11.799999999999955" height="194.8" fill="url(#cb)" stroke="#ddd" stroke-width="0.6"/>
<g font-size="10" fill="#222" stroke="#333" stroke-width="1">
<text x="647.5" y="251.8" stroke="none">0</text>
<line x1="643.9" y1="222.4" x2="640.9" y2="222.4"/>
<text x="647.5" y="225.8" stroke="none">200</text>
<line x1="643.9" y1="196.5" x2="640.9" y2="196.5"/>
<text x="647.5" y="199.9" stroke="none">400</text>
<line x1="643.9" y1="170.5" x2="640.9" y2="170.5"/>
<text x="647.5" y="173.9" stroke="none">600</text>
<line x1="643.9" y1="144.5" x2="640.9" y2="144.5"/>
<text x="647.5" y="147.9" stroke="none">800</text>
<line x1="643.9" y1="118.5" x2="640.9" y2="118.5"/>
<text x="647.5" y="121.9" stroke="none">1000</text>
<line x1="643.9" y1="92.6" x2="640.9" y2="92.6"/>
<text x="647.5" y="96.0" stroke="none">1200</text>
<line x1="643.9" y1="66.6" x2="640.9" y2="66.6"/>
<text x="647.5" y="70.0" stroke="none">1400</text>
</g>
<text transform="translate(682,238.5) rotate(-90)" font-size="11.2" fill="#222" textLength="174.5" lengthAdjust="spacingAndGlyphs">Groundwater pressure head (m)</text>
</svg>
</body></html>
